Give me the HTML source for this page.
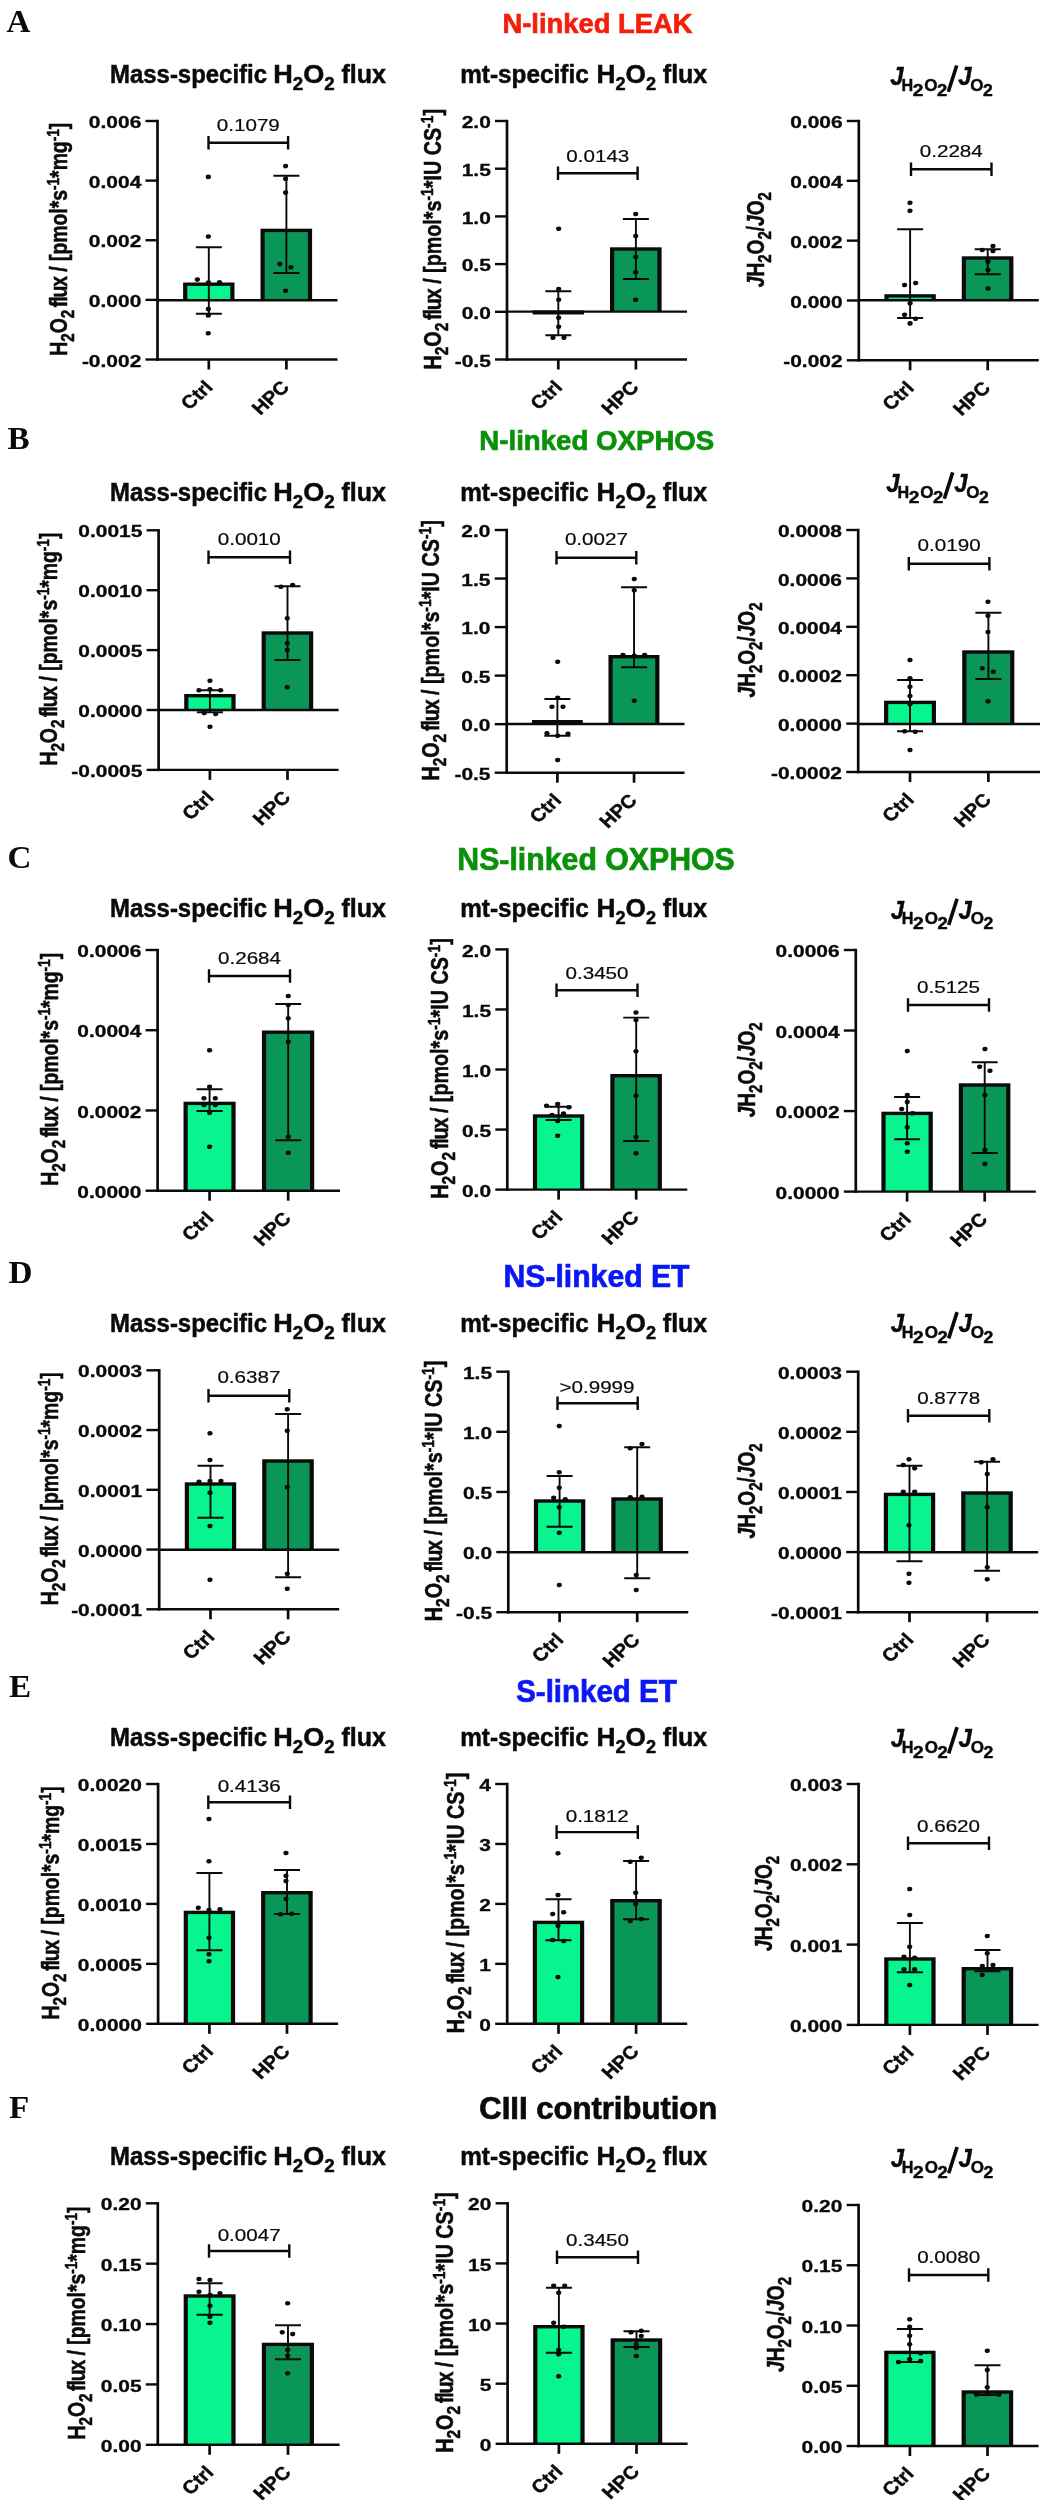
<!DOCTYPE html>
<html><head><meta charset="utf-8"><title>Figure</title><style>
html,body{margin:0;padding:0;background:#fff;}
svg{display:block;will-change:transform;}
text{font-family:"Liberation Sans",sans-serif;fill:#0a0a0a;}
.lt{font-family:"Liberation Serif",serif;font-weight:bold;font-size:31px;}
.tt{font-weight:bold;font-size:26px;stroke-width:.7px;}
.st{font-weight:bold;font-size:26px;stroke:#0a0a0a;stroke-width:.5px;}
.ss{font-size:18px;}
.s1{font-size:17px;}
.s2{font-size:14px;}
.tk{font-weight:bold;font-size:17.4px;stroke:#0a0a0a;stroke-width:.32px;}
.xl{font-weight:bold;font-size:18.4px;stroke:#0a0a0a;stroke-width:.4px;}
.pv{font-size:16.5px;stroke:#0a0a0a;stroke-width:.2px;}
.yl{font-weight:bold;font-size:18.5px;stroke:#0a0a0a;stroke-width:.4px;}
.sb{font-size:14.5px;}
.sp{font-size:13px;}
.ax{stroke:#0a0a0a;stroke-width:2.4;fill:none;}
.ay{stroke:#0a0a0a;stroke-width:2.7;fill:none;}
.er{stroke:#0a0a0a;stroke-width:1.9;fill:none;}
.br{stroke:#0a0a0a;stroke-width:2.4;fill:none;}
</style></head>
<body>
<svg width="1041" height="2500" viewBox="0 0 1041 2500">
<rect width="1041" height="2500" fill="#fff"/>
<!-- row A -->
<text transform="translate(6.5,32) scale(1.07,1)" class="lt">A</text>
<text x="502.5" y="32.5" textLength="190" lengthAdjust="spacingAndGlyphs" class="tt" style="fill:#f41e0a;stroke:#f41e0a;font-size:27px">N-linked LEAK</text>
<text x="110" y="83.3" textLength="157" lengthAdjust="spacingAndGlyphs" class="st">Mass-specific</text>
<text x="273.3" y="83.3" textLength="61.5" lengthAdjust="spacingAndGlyphs" class="st">H<tspan class="ss" dy="7">2</tspan><tspan dy="-7">O</tspan><tspan class="ss" dy="7">2</tspan></text>
<text x="341.5" y="83.3" textLength="44.5" lengthAdjust="spacingAndGlyphs" class="st">flux</text>
<rect x="183.1" y="282.5" width="51.4" height="17.7" fill="#0a0a0a"/>
<rect x="187.3" y="285.9" width="43" height="14.3" fill="#08f48f"/>
<rect x="260.5" y="228.7" width="51.6" height="71.5" fill="#0a0a0a"/>
<rect x="264.7" y="232.1" width="43.2" height="68.1" fill="#0a9656"/>
<path d="M157.5 119.8V360.7" class="ay"/>
<path d="M156.2 359.5H337.5" class="ax"/>
<path d="M157.5 300.2H337.5" class="ax"/>
<path d="M145.5 121H157.5" class="ax"/>
<text transform="translate(141.3,128.1) scale(1.205,1)" text-anchor="end" class="tk">0.006</text>
<path d="M145.5 180.62H157.5" class="ax"/>
<text transform="translate(141.3,187.72) scale(1.205,1)" text-anchor="end" class="tk">0.004</text>
<path d="M145.5 240.25H157.5" class="ax"/>
<text transform="translate(141.3,247.35) scale(1.205,1)" text-anchor="end" class="tk">0.002</text>
<path d="M145.5 299.88H157.5" class="ax"/>
<text transform="translate(141.3,306.98) scale(1.205,1)" text-anchor="end" class="tk">0.000</text>
<path d="M145.5 359.5H157.5" class="ax"/>
<text transform="translate(141.3,366.6) scale(1.205,1)" text-anchor="end" class="tk">-0.002</text>
<path d="M208.8 359.5V369.5" class="ay"/>
<text transform="translate(214,388.3) scale(1.1,1) rotate(-45)" text-anchor="end" class="xl">Ctrl</text>
<path d="M286.4 359.5V369.5" class="ay"/>
<text transform="translate(290.4,388.3) scale(1.1,1) rotate(-45)" text-anchor="end" class="xl">HPC</text>
<path d="M208.8 247.3V313.7M195.8 247.3h26M195.8 313.7h26" class="er"/>
<path d="M286.4 175.7V273M273.4 175.7h26M273.4 273h26" class="er"/>
<ellipse cx="208.4" cy="176.9" rx="2.6" ry="2.3" fill="#0a0a0a"/>
<ellipse cx="208.4" cy="236.5" rx="2.6" ry="2.3" fill="#0a0a0a"/>
<ellipse cx="197.4" cy="279.6" rx="2.6" ry="2.3" fill="#0a0a0a"/>
<ellipse cx="208.4" cy="282.5" rx="2.6" ry="2.3" fill="#0a0a0a"/>
<ellipse cx="219.5" cy="282.2" rx="2.6" ry="2.3" fill="#0a0a0a"/>
<ellipse cx="208.4" cy="309.1" rx="2.6" ry="2.3" fill="#0a0a0a"/>
<ellipse cx="208.4" cy="315.5" rx="2.6" ry="2.3" fill="#0a0a0a"/>
<ellipse cx="208.3" cy="333.3" rx="2.6" ry="2.3" fill="#0a0a0a"/>
<ellipse cx="285.6" cy="166.1" rx="2.6" ry="2.3" fill="#0a0a0a"/>
<ellipse cx="285.6" cy="178.8" rx="2.6" ry="2.3" fill="#0a0a0a"/>
<ellipse cx="285.6" cy="192.6" rx="2.6" ry="2.3" fill="#0a0a0a"/>
<ellipse cx="279.9" cy="264.1" rx="2.6" ry="2.3" fill="#0a0a0a"/>
<ellipse cx="291" cy="267.3" rx="2.6" ry="2.3" fill="#0a0a0a"/>
<ellipse cx="285.6" cy="290.8" rx="2.6" ry="2.3" fill="#0a0a0a"/>
<path d="M208.5 142.7H288.1M208.5 135.9v13.6M288.1 135.9v13.6" class="br"/>
<text transform="translate(248.3,131.2) scale(1.25,1)" text-anchor="middle" class="pv">0.1079</text>
<text transform="translate(66.5,239.25) scale(1.33,1) rotate(-90)" text-anchor="middle" textLength="233" lengthAdjust="spacingAndGlyphs" class="yl">H<tspan class="sb" dy="5.3">2</tspan><tspan dy="-5.3">O</tspan><tspan class="sb" dy="5.3">2</tspan><tspan dy="-5.3"> </tspan><tspan letter-spacing="-1.05" dx="-2.6">flux</tspan><tspan> / [pmol*s</tspan><tspan class="sp" dy="-6">-1</tspan><tspan dy="6">*mg</tspan><tspan class="sp" dy="-6">-1</tspan><tspan dy="6">]</tspan></text>
<text x="460.2" y="83.3" textLength="128.5" lengthAdjust="spacingAndGlyphs" class="st">mt-specific</text>
<text x="596.5" y="83.3" textLength="59.5" lengthAdjust="spacingAndGlyphs" class="st">H<tspan class="ss" dy="7">2</tspan><tspan dy="-7">O</tspan><tspan class="ss" dy="7">2</tspan></text>
<text x="662.8" y="83.3" textLength="44.5" lengthAdjust="spacingAndGlyphs" class="st">flux</text>
<rect x="532.6" y="310.4" width="51.4" height="4.1" fill="#0a0a0a"/>
<rect x="610" y="247.3" width="51.6" height="64.3" fill="#0a0a0a"/>
<rect x="614.2" y="250.7" width="43.2" height="60.9" fill="#0a9656"/>
<path d="M507 119.8V360.7" class="ay"/>
<path d="M505.7 359.5H687" class="ax"/>
<path d="M507 311.6H687" class="ax"/>
<path d="M495 121H507" class="ax"/>
<text transform="translate(490.8,128.1) scale(1.205,1)" text-anchor="end" class="tk">2.0</text>
<path d="M495 168.7H507" class="ax"/>
<text transform="translate(490.8,175.8) scale(1.205,1)" text-anchor="end" class="tk">1.5</text>
<path d="M495 216.4H507" class="ax"/>
<text transform="translate(490.8,223.5) scale(1.205,1)" text-anchor="end" class="tk">1.0</text>
<path d="M495 264.1H507" class="ax"/>
<text transform="translate(490.8,271.2) scale(1.205,1)" text-anchor="end" class="tk">0.5</text>
<path d="M495 311.8H507" class="ax"/>
<text transform="translate(490.8,318.9) scale(1.205,1)" text-anchor="end" class="tk">0.0</text>
<path d="M495 359.5H507" class="ax"/>
<text transform="translate(490.8,366.6) scale(1.205,1)" text-anchor="end" class="tk">-0.5</text>
<path d="M558.3 359.5V369.5" class="ay"/>
<text transform="translate(563.5,388.3) scale(1.1,1) rotate(-45)" text-anchor="end" class="xl">Ctrl</text>
<path d="M635.9 359.5V369.5" class="ay"/>
<text transform="translate(639.9,388.3) scale(1.1,1) rotate(-45)" text-anchor="end" class="xl">HPC</text>
<path d="M558.3 291.3V335.3M545.3 291.3h26M545.3 335.3h26" class="er"/>
<path d="M635.9 219V279M622.9 219h26M622.9 279h26" class="er"/>
<ellipse cx="558.7" cy="228.7" rx="2.6" ry="2.3" fill="#0a0a0a"/>
<ellipse cx="558.7" cy="289" rx="2.6" ry="2.3" fill="#0a0a0a"/>
<ellipse cx="558.7" cy="299.7" rx="2.6" ry="2.3" fill="#0a0a0a"/>
<ellipse cx="558.7" cy="317.7" rx="2.6" ry="2.3" fill="#0a0a0a"/>
<ellipse cx="558.7" cy="326.7" rx="2.6" ry="2.3" fill="#0a0a0a"/>
<ellipse cx="553" cy="337.7" rx="2.6" ry="2.3" fill="#0a0a0a"/>
<ellipse cx="564" cy="337.7" rx="2.6" ry="2.3" fill="#0a0a0a"/>
<ellipse cx="635.7" cy="214" rx="2.6" ry="2.3" fill="#0a0a0a"/>
<ellipse cx="635.7" cy="236" rx="2.6" ry="2.3" fill="#0a0a0a"/>
<ellipse cx="635.7" cy="256.7" rx="2.6" ry="2.3" fill="#0a0a0a"/>
<ellipse cx="635.7" cy="272.3" rx="2.6" ry="2.3" fill="#0a0a0a"/>
<ellipse cx="635.7" cy="299.7" rx="2.6" ry="2.3" fill="#0a0a0a"/>
<path d="M558 173.3H637.6M558 166.5v13.6M637.6 166.5v13.6" class="br"/>
<text transform="translate(597.8,161.8) scale(1.25,1)" text-anchor="middle" class="pv">0.0143</text>
<text transform="translate(441,239.25) scale(1.33,1) rotate(-90)" text-anchor="middle" textLength="260.5" lengthAdjust="spacingAndGlyphs" class="yl">H<tspan class="sb" dy="5.3">2</tspan><tspan dy="-5.3">O</tspan><tspan class="sb" dy="5.3">2</tspan><tspan dy="-5.3"> </tspan><tspan letter-spacing="-1.05" dx="-2.6">flux</tspan><tspan> / [pmol*s</tspan><tspan class="sp" dy="-6">-1</tspan><tspan dy="6">*IU CS</tspan><tspan class="sp" dy="-6">-1</tspan><tspan dy="6">]</tspan></text>
<text transform="translate(890.3,85.3) scale(0.9,1)" font-size="26.5" font-weight="bold" stroke="#0a0a0a" stroke-width=".45" font-style="italic">J</text>
<text transform="translate(901.4,91) scale(0.95,1)" font-size="17" font-weight="bold" stroke="#0a0a0a" stroke-width=".45">H</text>
<text transform="translate(912.7,96) scale(1.2,1)" font-size="16" font-weight="bold" stroke="#0a0a0a" stroke-width=".45">2</text>
<text transform="translate(924.3,91) scale(1.0,1)" font-size="17" font-weight="bold" stroke="#0a0a0a" stroke-width=".45">O</text>
<text transform="translate(937,96) scale(1.15,1)" font-size="16" font-weight="bold" stroke="#0a0a0a" stroke-width=".45">2</text>
<path d="M948.3 91.8L956.7 65.5" stroke="#0a0a0a" stroke-width="3.6" fill="none"/>
<text transform="translate(958.2,85.3) scale(0.9,1)" font-size="26.5" font-weight="bold" stroke="#0a0a0a" stroke-width=".45" font-style="italic">J</text>
<text transform="translate(970.3,91) scale(1.0,1)" font-size="17" font-weight="bold" stroke="#0a0a0a" stroke-width=".45">O</text>
<text transform="translate(983,96) scale(1.1,1)" font-size="16" font-weight="bold" stroke="#0a0a0a" stroke-width=".45">2</text>
<rect x="884.4" y="294.2" width="51.4" height="6.1" fill="#0a0a0a"/>
<rect x="888.6" y="297.6" width="43" height="2.7" fill="#08f48f"/>
<rect x="961.8" y="256.3" width="51.6" height="44" fill="#0a0a0a"/>
<rect x="966" y="259.7" width="43.2" height="40.6" fill="#0a9656"/>
<path d="M858.8 119.8V361.5" class="ay"/>
<path d="M857.5 360.3H1038.8" class="ax"/>
<path d="M858.8 300.3H1038.8" class="ax"/>
<path d="M846.8 121H858.8" class="ax"/>
<text transform="translate(842.6,128.1) scale(1.205,1)" text-anchor="end" class="tk">0.006</text>
<path d="M846.8 180.82H858.8" class="ax"/>
<text transform="translate(842.6,187.92) scale(1.205,1)" text-anchor="end" class="tk">0.004</text>
<path d="M846.8 240.65H858.8" class="ax"/>
<text transform="translate(842.6,247.75) scale(1.205,1)" text-anchor="end" class="tk">0.002</text>
<path d="M846.8 300.48H858.8" class="ax"/>
<text transform="translate(842.6,307.58) scale(1.205,1)" text-anchor="end" class="tk">0.000</text>
<path d="M846.8 360.3H858.8" class="ax"/>
<text transform="translate(842.6,367.4) scale(1.205,1)" text-anchor="end" class="tk">-0.002</text>
<path d="M910.1 360.3V370.3" class="ay"/>
<text transform="translate(915.3,389.1) scale(1.1,1) rotate(-45)" text-anchor="end" class="xl">Ctrl</text>
<path d="M987.7 360.3V370.3" class="ay"/>
<text transform="translate(991.7,389.1) scale(1.1,1) rotate(-45)" text-anchor="end" class="xl">HPC</text>
<path d="M910.1 229.3V318M897.1 229.3h26M897.1 318h26" class="er"/>
<path d="M987.7 249.3V274.3M974.7 249.3h26M974.7 274.3h26" class="er"/>
<ellipse cx="910" cy="202.7" rx="2.6" ry="2.3" fill="#0a0a0a"/>
<ellipse cx="910" cy="210.7" rx="2.6" ry="2.3" fill="#0a0a0a"/>
<ellipse cx="904.6" cy="285" rx="2.6" ry="2.3" fill="#0a0a0a"/>
<ellipse cx="915.7" cy="283" rx="2.6" ry="2.3" fill="#0a0a0a"/>
<ellipse cx="910.1" cy="303.2" rx="2.6" ry="2.3" fill="#0a0a0a"/>
<ellipse cx="904.6" cy="314.7" rx="2.6" ry="2.3" fill="#0a0a0a"/>
<ellipse cx="915.7" cy="318.7" rx="2.6" ry="2.3" fill="#0a0a0a"/>
<ellipse cx="910.1" cy="323.4" rx="2.6" ry="2.3" fill="#0a0a0a"/>
<ellipse cx="982.3" cy="250" rx="2.6" ry="2.3" fill="#0a0a0a"/>
<ellipse cx="993" cy="246" rx="2.6" ry="2.3" fill="#0a0a0a"/>
<ellipse cx="993" cy="251" rx="2.6" ry="2.3" fill="#0a0a0a"/>
<ellipse cx="988" cy="261.7" rx="2.6" ry="2.3" fill="#0a0a0a"/>
<ellipse cx="988" cy="270" rx="2.6" ry="2.3" fill="#0a0a0a"/>
<ellipse cx="988" cy="288.5" rx="2.6" ry="2.3" fill="#0a0a0a"/>
<path d="M911 169.3H991.5M911 162.5v13.6M991.5 162.5v13.6" class="br"/>
<text transform="translate(951.25,156.9) scale(1.25,1)" text-anchor="middle" class="pv">0.2284</text>
<text transform="translate(763.8,239.65) scale(1.33,1) rotate(-90)" text-anchor="middle" textLength="95" lengthAdjust="spacingAndGlyphs" class="yl"><tspan font-style="italic">J</tspan>H<tspan class="sb" dy="5.3">2</tspan><tspan dy="-5.3">O</tspan><tspan class="sb" dy="5.3">2</tspan><tspan dy="-5.3">/</tspan><tspan font-style="italic">J</tspan>O<tspan class="sb" dy="5.3">2</tspan></text>
<!-- row B -->
<text transform="translate(7.4,449.3) scale(1.07,1)" class="lt">B</text>
<text x="479.3" y="450.3" textLength="235" lengthAdjust="spacingAndGlyphs" class="tt" style="fill:#0a910a;stroke:#0a910a;font-size:27px">N-linked OXPHOS</text>
<text x="110" y="501" textLength="157" lengthAdjust="spacingAndGlyphs" class="st">Mass-specific</text>
<text x="273.3" y="501" textLength="61.5" lengthAdjust="spacingAndGlyphs" class="st">H<tspan class="ss" dy="7">2</tspan><tspan dy="-7">O</tspan><tspan class="ss" dy="7">2</tspan></text>
<text x="341.5" y="501" textLength="44.5" lengthAdjust="spacingAndGlyphs" class="st">flux</text>
<rect x="184.2" y="694" width="51.4" height="16" fill="#0a0a0a"/>
<rect x="188.4" y="697.4" width="43" height="12.6" fill="#08f48f"/>
<rect x="261.6" y="631.3" width="51.6" height="78.7" fill="#0a0a0a"/>
<rect x="265.8" y="634.7" width="43.2" height="75.3" fill="#0a9656"/>
<path d="M158.6 529.1V771.1" class="ay"/>
<path d="M157.3 769.9H338.6" class="ax"/>
<path d="M158.6 710H338.6" class="ax"/>
<path d="M146.6 530.3H158.6" class="ax"/>
<text transform="translate(142.4,537.4) scale(1.205,1)" text-anchor="end" class="tk">0.0015</text>
<path d="M146.6 590.2H158.6" class="ax"/>
<text transform="translate(142.4,597.3) scale(1.205,1)" text-anchor="end" class="tk">0.0010</text>
<path d="M146.6 650.1H158.6" class="ax"/>
<text transform="translate(142.4,657.2) scale(1.205,1)" text-anchor="end" class="tk">0.0005</text>
<path d="M146.6 710H158.6" class="ax"/>
<text transform="translate(142.4,717.1) scale(1.205,1)" text-anchor="end" class="tk">0.0000</text>
<path d="M146.6 769.9H158.6" class="ax"/>
<text transform="translate(142.4,777) scale(1.205,1)" text-anchor="end" class="tk">-0.0005</text>
<path d="M209.9 769.9V779.9" class="ay"/>
<text transform="translate(215.1,798.7) scale(1.1,1) rotate(-45)" text-anchor="end" class="xl">Ctrl</text>
<path d="M287.5 769.9V779.9" class="ay"/>
<text transform="translate(291.5,798.7) scale(1.1,1) rotate(-45)" text-anchor="end" class="xl">HPC</text>
<path d="M209.9 690.3V712.3M196.9 690.3h26M196.9 712.3h26" class="er"/>
<path d="M287.5 586.3V660M274.5 586.3h26M274.5 660h26" class="er"/>
<ellipse cx="210" cy="680.7" rx="2.6" ry="2.3" fill="#0a0a0a"/>
<ellipse cx="199" cy="690.3" rx="2.6" ry="2.3" fill="#0a0a0a"/>
<ellipse cx="210" cy="689.3" rx="2.6" ry="2.3" fill="#0a0a0a"/>
<ellipse cx="220.7" cy="690.3" rx="2.6" ry="2.3" fill="#0a0a0a"/>
<ellipse cx="204.3" cy="713" rx="2.6" ry="2.3" fill="#0a0a0a"/>
<ellipse cx="215.7" cy="714" rx="2.6" ry="2.3" fill="#0a0a0a"/>
<ellipse cx="210" cy="726.7" rx="2.6" ry="2.3" fill="#0a0a0a"/>
<ellipse cx="281" cy="586.7" rx="2.6" ry="2.3" fill="#0a0a0a"/>
<ellipse cx="292.7" cy="585" rx="2.6" ry="2.3" fill="#0a0a0a"/>
<ellipse cx="287.3" cy="618.3" rx="2.6" ry="2.3" fill="#0a0a0a"/>
<ellipse cx="287.3" cy="643.3" rx="2.6" ry="2.3" fill="#0a0a0a"/>
<ellipse cx="287.3" cy="650" rx="2.6" ry="2.3" fill="#0a0a0a"/>
<ellipse cx="287.3" cy="687.3" rx="2.6" ry="2.3" fill="#0a0a0a"/>
<path d="M208.5 557.3H290M208.5 550.5v13.6M290 550.5v13.6" class="br"/>
<text transform="translate(249.25,544.5) scale(1.25,1)" text-anchor="middle" class="pv">0.0010</text>
<text transform="translate(56.5,649.1) scale(1.33,1) rotate(-90)" text-anchor="middle" textLength="233" lengthAdjust="spacingAndGlyphs" class="yl">H<tspan class="sb" dy="5.3">2</tspan><tspan dy="-5.3">O</tspan><tspan class="sb" dy="5.3">2</tspan><tspan dy="-5.3"> </tspan><tspan letter-spacing="-1.05" dx="-2.6">flux</tspan><tspan> / [pmol*s</tspan><tspan class="sp" dy="-6">-1</tspan><tspan dy="6">*mg</tspan><tspan class="sp" dy="-6">-1</tspan><tspan dy="6">]</tspan></text>
<text x="460.2" y="501" textLength="128.5" lengthAdjust="spacingAndGlyphs" class="st">mt-specific</text>
<text x="596.5" y="501" textLength="59.5" lengthAdjust="spacingAndGlyphs" class="st">H<tspan class="ss" dy="7">2</tspan><tspan dy="-7">O</tspan><tspan class="ss" dy="7">2</tspan></text>
<text x="662.8" y="501" textLength="44.5" lengthAdjust="spacingAndGlyphs" class="st">flux</text>
<rect x="531.99" y="720" width="50.78" height="4" fill="#0a0a0a"/>
<rect x="536.19" y="723.4" width="42.38" height="0.6" fill="#08f48f"/>
<rect x="608.46" y="655" width="50.98" height="69" fill="#0a0a0a"/>
<rect x="612.66" y="658.4" width="42.58" height="65.6" fill="#0a9656"/>
<path d="M506.7 528.8V773.9" class="ay"/>
<path d="M505.4 772.7H684.54" class="ax"/>
<path d="M506.7 724H684.54" class="ax"/>
<path d="M494.7 530H506.7" class="ax"/>
<text transform="translate(490.5,537.1) scale(1.205,1)" text-anchor="end" class="tk">2.0</text>
<path d="M494.7 578.54H506.7" class="ax"/>
<text transform="translate(490.5,585.64) scale(1.205,1)" text-anchor="end" class="tk">1.5</text>
<path d="M494.7 627.08H506.7" class="ax"/>
<text transform="translate(490.5,634.18) scale(1.205,1)" text-anchor="end" class="tk">1.0</text>
<path d="M494.7 675.62H506.7" class="ax"/>
<text transform="translate(490.5,682.72) scale(1.205,1)" text-anchor="end" class="tk">0.5</text>
<path d="M494.7 724.16H506.7" class="ax"/>
<text transform="translate(490.5,731.26) scale(1.205,1)" text-anchor="end" class="tk">0.0</text>
<path d="M494.7 772.7H506.7" class="ax"/>
<text transform="translate(490.5,779.8) scale(1.205,1)" text-anchor="end" class="tk">-0.5</text>
<path d="M557.38 772.7V782.7" class="ay"/>
<text transform="translate(562.58,801.5) scale(1.1,1) rotate(-45)" text-anchor="end" class="xl">Ctrl</text>
<path d="M634.05 772.7V782.7" class="ay"/>
<text transform="translate(638.05,801.5) scale(1.1,1) rotate(-45)" text-anchor="end" class="xl">HPC</text>
<path d="M557.38 699V735.7M544.38 699h26M544.38 735.7h26" class="er"/>
<path d="M634.05 587.3V667.3M621.05 587.3h26M621.05 667.3h26" class="er"/>
<ellipse cx="557.7" cy="661.7" rx="2.6" ry="2.3" fill="#0a0a0a"/>
<ellipse cx="557.7" cy="697.7" rx="2.6" ry="2.3" fill="#0a0a0a"/>
<ellipse cx="552" cy="706.7" rx="2.6" ry="2.3" fill="#0a0a0a"/>
<ellipse cx="563" cy="706.7" rx="2.6" ry="2.3" fill="#0a0a0a"/>
<ellipse cx="547" cy="733.3" rx="2.6" ry="2.3" fill="#0a0a0a"/>
<ellipse cx="557.7" cy="735.7" rx="2.6" ry="2.3" fill="#0a0a0a"/>
<ellipse cx="568" cy="733.7" rx="2.6" ry="2.3" fill="#0a0a0a"/>
<ellipse cx="557.7" cy="760" rx="2.6" ry="2.3" fill="#0a0a0a"/>
<ellipse cx="634.3" cy="579" rx="2.6" ry="2.3" fill="#0a0a0a"/>
<ellipse cx="634.3" cy="590.3" rx="2.6" ry="2.3" fill="#0a0a0a"/>
<ellipse cx="623" cy="655" rx="2.6" ry="2.3" fill="#0a0a0a"/>
<ellipse cx="634.3" cy="655.7" rx="2.6" ry="2.3" fill="#0a0a0a"/>
<ellipse cx="644.7" cy="655" rx="2.6" ry="2.3" fill="#0a0a0a"/>
<ellipse cx="634.3" cy="700.7" rx="2.6" ry="2.3" fill="#0a0a0a"/>
<path d="M556.5 557.7H636.3M556.5 550.9v13.6M636.3 550.9v13.6" class="br"/>
<text transform="translate(596.4,545.2) scale(1.25,1)" text-anchor="middle" class="pv">0.0027</text>
<text transform="translate(439,650.35) scale(1.33,1) rotate(-90)" text-anchor="middle" textLength="260.5" lengthAdjust="spacingAndGlyphs" class="yl">H<tspan class="sb" dy="5.3">2</tspan><tspan dy="-5.3">O</tspan><tspan class="sb" dy="5.3">2</tspan><tspan dy="-5.3"> </tspan><tspan letter-spacing="-1.05" dx="-2.6">flux</tspan><tspan> / [pmol*s</tspan><tspan class="sp" dy="-6">-1</tspan><tspan dy="6">*IU CS</tspan><tspan class="sp" dy="-6">-1</tspan><tspan dy="6">]</tspan></text>
<text transform="translate(886.3,492.2) scale(0.9,1)" font-size="26.5" font-weight="bold" stroke="#0a0a0a" stroke-width=".45" font-style="italic">J</text>
<text transform="translate(897.4,497.9) scale(0.95,1)" font-size="17" font-weight="bold" stroke="#0a0a0a" stroke-width=".45">H</text>
<text transform="translate(908.7,502.9) scale(1.2,1)" font-size="16" font-weight="bold" stroke="#0a0a0a" stroke-width=".45">2</text>
<text transform="translate(920.3,497.9) scale(1.0,1)" font-size="17" font-weight="bold" stroke="#0a0a0a" stroke-width=".45">O</text>
<text transform="translate(933,502.9) scale(1.15,1)" font-size="16" font-weight="bold" stroke="#0a0a0a" stroke-width=".45">2</text>
<path d="M944.3 498.7L952.7 472.4" stroke="#0a0a0a" stroke-width="3.6" fill="none"/>
<text transform="translate(954.2,492.2) scale(0.9,1)" font-size="26.5" font-weight="bold" stroke="#0a0a0a" stroke-width=".45" font-style="italic">J</text>
<text transform="translate(966.3,497.9) scale(1.0,1)" font-size="17" font-weight="bold" stroke="#0a0a0a" stroke-width=".45">O</text>
<text transform="translate(979,502.9) scale(1.1,1)" font-size="16" font-weight="bold" stroke="#0a0a0a" stroke-width=".45">2</text>
<rect x="884.06" y="700.7" width="51.91" height="23.3" fill="#0a0a0a"/>
<rect x="888.26" y="704.1" width="43.51" height="19.9" fill="#08f48f"/>
<rect x="962.23" y="650.3" width="52.12" height="73.7" fill="#0a0a0a"/>
<rect x="966.43" y="653.7" width="43.72" height="70.3" fill="#0a9656"/>
<path d="M858.2 528.8V773.2" class="ay"/>
<path d="M856.9 772H1040" class="ax"/>
<path d="M858.2 724H1040" class="ax"/>
<path d="M846.2 530H858.2" class="ax"/>
<text transform="translate(842,537.1) scale(1.205,1)" text-anchor="end" class="tk">0.0008</text>
<path d="M846.2 578.4H858.2" class="ax"/>
<text transform="translate(842,585.5) scale(1.205,1)" text-anchor="end" class="tk">0.0006</text>
<path d="M846.2 626.8H858.2" class="ax"/>
<text transform="translate(842,633.9) scale(1.205,1)" text-anchor="end" class="tk">0.0004</text>
<path d="M846.2 675.2H858.2" class="ax"/>
<text transform="translate(842,682.3) scale(1.205,1)" text-anchor="end" class="tk">0.0002</text>
<path d="M846.2 723.6H858.2" class="ax"/>
<text transform="translate(842,730.7) scale(1.205,1)" text-anchor="end" class="tk">0.0000</text>
<path d="M846.2 772H858.2" class="ax"/>
<text transform="translate(842,779.1) scale(1.205,1)" text-anchor="end" class="tk">-0.0002</text>
<path d="M910.01 772V782" class="ay"/>
<text transform="translate(915.21,800.8) scale(1.1,1) rotate(-45)" text-anchor="end" class="xl">Ctrl</text>
<path d="M988.39 772V782" class="ay"/>
<text transform="translate(992.39,800.8) scale(1.1,1) rotate(-45)" text-anchor="end" class="xl">HPC</text>
<path d="M910.01 680V731.3M897.01 680h26M897.01 731.3h26" class="er"/>
<path d="M988.39 612.7V679M975.39 612.7h26M975.39 679h26" class="er"/>
<ellipse cx="910" cy="660" rx="2.6" ry="2.3" fill="#0a0a0a"/>
<ellipse cx="910" cy="678.3" rx="2.6" ry="2.3" fill="#0a0a0a"/>
<ellipse cx="910" cy="686.7" rx="2.6" ry="2.3" fill="#0a0a0a"/>
<ellipse cx="910" cy="696" rx="2.6" ry="2.3" fill="#0a0a0a"/>
<ellipse cx="910" cy="704.3" rx="2.6" ry="2.3" fill="#0a0a0a"/>
<ellipse cx="904.7" cy="731.3" rx="2.6" ry="2.3" fill="#0a0a0a"/>
<ellipse cx="915.3" cy="731.7" rx="2.6" ry="2.3" fill="#0a0a0a"/>
<ellipse cx="910" cy="750" rx="2.6" ry="2.3" fill="#0a0a0a"/>
<ellipse cx="988" cy="601.7" rx="2.6" ry="2.3" fill="#0a0a0a"/>
<ellipse cx="988" cy="615.7" rx="2.6" ry="2.3" fill="#0a0a0a"/>
<ellipse cx="988" cy="632" rx="2.6" ry="2.3" fill="#0a0a0a"/>
<ellipse cx="982.3" cy="668.3" rx="2.6" ry="2.3" fill="#0a0a0a"/>
<ellipse cx="993.3" cy="671.7" rx="2.6" ry="2.3" fill="#0a0a0a"/>
<ellipse cx="988" cy="701.3" rx="2.6" ry="2.3" fill="#0a0a0a"/>
<path d="M908.8 563.8H989.4M908.8 557v13.6M989.4 557v13.6" class="br"/>
<text transform="translate(949.1,551.2) scale(1.25,1)" text-anchor="middle" class="pv">0.0190</text>
<text transform="translate(755,650) scale(1.33,1) rotate(-90)" text-anchor="middle" textLength="95" lengthAdjust="spacingAndGlyphs" class="yl"><tspan font-style="italic">J</tspan>H<tspan class="sb" dy="5.3">2</tspan><tspan dy="-5.3">O</tspan><tspan class="sb" dy="5.3">2</tspan><tspan dy="-5.3">/</tspan><tspan font-style="italic">J</tspan>O<tspan class="sb" dy="5.3">2</tspan></text>
<!-- row C -->
<text transform="translate(7.6,867.6) scale(1.07,1)" class="lt">C</text>
<text x="457.3" y="869.6" textLength="277.5" lengthAdjust="spacingAndGlyphs" class="tt" style="fill:#0a910a;stroke:#0a910a;font-size:30.5px">NS-linked OXPHOS</text>
<text x="110" y="917.3" textLength="157" lengthAdjust="spacingAndGlyphs" class="st">Mass-specific</text>
<text x="273.3" y="917.3" textLength="61.5" lengthAdjust="spacingAndGlyphs" class="st">H<tspan class="ss" dy="7">2</tspan><tspan dy="-7">O</tspan><tspan class="ss" dy="7">2</tspan></text>
<text x="341.5" y="917.3" textLength="44.5" lengthAdjust="spacingAndGlyphs" class="st">flux</text>
<rect x="183.53" y="1101.7" width="52.07" height="89" fill="#0a0a0a"/>
<rect x="187.73" y="1105.1" width="43.67" height="85.6" fill="#08f48f"/>
<rect x="261.94" y="1030.5" width="52.27" height="160.2" fill="#0a0a0a"/>
<rect x="266.14" y="1033.9" width="43.87" height="156.8" fill="#0a9656"/>
<path d="M157.6 948.8V1191.9" class="ay"/>
<path d="M156.3 1190.7H339.94" class="ax"/>
<path d="M145.6 950H157.6" class="ax"/>
<text transform="translate(141.4,957.1) scale(1.205,1)" text-anchor="end" class="tk">0.0006</text>
<path d="M145.6 1030.23H157.6" class="ax"/>
<text transform="translate(141.4,1037.33) scale(1.205,1)" text-anchor="end" class="tk">0.0004</text>
<path d="M145.6 1110.47H157.6" class="ax"/>
<text transform="translate(141.4,1117.57) scale(1.205,1)" text-anchor="end" class="tk">0.0002</text>
<path d="M145.6 1190.7H157.6" class="ax"/>
<text transform="translate(141.4,1197.8) scale(1.205,1)" text-anchor="end" class="tk">0.0000</text>
<path d="M209.57 1190.7V1200.7" class="ay"/>
<text transform="translate(214.77,1219.5) scale(1.1,1) rotate(-45)" text-anchor="end" class="xl">Ctrl</text>
<path d="M288.18 1190.7V1200.7" class="ay"/>
<text transform="translate(292.18,1219.5) scale(1.1,1) rotate(-45)" text-anchor="end" class="xl">HPC</text>
<path d="M209.57 1089.3V1111M196.57 1089.3h26M196.57 1111h26" class="er"/>
<path d="M288.18 1004V1140.3M275.18 1004h26M275.18 1140.3h26" class="er"/>
<ellipse cx="209.6" cy="1050.3" rx="2.6" ry="2.3" fill="#0a0a0a"/>
<ellipse cx="209.6" cy="1086.7" rx="2.6" ry="2.3" fill="#0a0a0a"/>
<ellipse cx="204" cy="1098.3" rx="2.6" ry="2.3" fill="#0a0a0a"/>
<ellipse cx="215.4" cy="1098.3" rx="2.6" ry="2.3" fill="#0a0a0a"/>
<ellipse cx="204" cy="1105" rx="2.6" ry="2.3" fill="#0a0a0a"/>
<ellipse cx="215.4" cy="1105" rx="2.6" ry="2.3" fill="#0a0a0a"/>
<ellipse cx="209.6" cy="1112.7" rx="2.6" ry="2.3" fill="#0a0a0a"/>
<ellipse cx="209.6" cy="1146.7" rx="2.6" ry="2.3" fill="#0a0a0a"/>
<ellipse cx="288.3" cy="996" rx="2.6" ry="2.3" fill="#0a0a0a"/>
<ellipse cx="288.3" cy="1005" rx="2.6" ry="2.3" fill="#0a0a0a"/>
<ellipse cx="288.3" cy="1018.3" rx="2.6" ry="2.3" fill="#0a0a0a"/>
<ellipse cx="288.3" cy="1041.7" rx="2.6" ry="2.3" fill="#0a0a0a"/>
<ellipse cx="288.3" cy="1136.7" rx="2.6" ry="2.3" fill="#0a0a0a"/>
<ellipse cx="288.3" cy="1152.7" rx="2.6" ry="2.3" fill="#0a0a0a"/>
<path d="M209 976H290M209 969.2v13.6M290 969.2v13.6" class="br"/>
<text transform="translate(249.5,963.5) scale(1.25,1)" text-anchor="middle" class="pv">0.2684</text>
<text transform="translate(57.5,1069.35) scale(1.33,1) rotate(-90)" text-anchor="middle" textLength="233" lengthAdjust="spacingAndGlyphs" class="yl">H<tspan class="sb" dy="5.3">2</tspan><tspan dy="-5.3">O</tspan><tspan class="sb" dy="5.3">2</tspan><tspan dy="-5.3"> </tspan><tspan letter-spacing="-1.05" dx="-2.6">flux</tspan><tspan> / [pmol*s</tspan><tspan class="sp" dy="-6">-1</tspan><tspan dy="6">*mg</tspan><tspan class="sp" dy="-6">-1</tspan><tspan dy="6">]</tspan></text>
<text x="460.2" y="917.3" textLength="128.5" lengthAdjust="spacingAndGlyphs" class="st">mt-specific</text>
<text x="596.5" y="917.3" textLength="59.5" lengthAdjust="spacingAndGlyphs" class="st">H<tspan class="ss" dy="7">2</tspan><tspan dy="-7">O</tspan><tspan class="ss" dy="7">2</tspan></text>
<text x="662.8" y="917.3" textLength="44.5" lengthAdjust="spacingAndGlyphs" class="st">flux</text>
<rect x="532.9" y="1114.3" width="51.4" height="75.3" fill="#0a0a0a"/>
<rect x="537.1" y="1117.7" width="43" height="71.9" fill="#08f48f"/>
<rect x="610.3" y="1074" width="51.6" height="115.6" fill="#0a0a0a"/>
<rect x="614.5" y="1077.4" width="43.2" height="112.2" fill="#0a9656"/>
<path d="M507.3 948.2V1190.8" class="ay"/>
<path d="M506 1189.6H687.3" class="ax"/>
<path d="M495.3 949.4H507.3" class="ax"/>
<text transform="translate(491.1,956.5) scale(1.205,1)" text-anchor="end" class="tk">2.0</text>
<path d="M495.3 1009.45H507.3" class="ax"/>
<text transform="translate(491.1,1016.55) scale(1.205,1)" text-anchor="end" class="tk">1.5</text>
<path d="M495.3 1069.5H507.3" class="ax"/>
<text transform="translate(491.1,1076.6) scale(1.205,1)" text-anchor="end" class="tk">1.0</text>
<path d="M495.3 1129.55H507.3" class="ax"/>
<text transform="translate(491.1,1136.65) scale(1.205,1)" text-anchor="end" class="tk">0.5</text>
<path d="M495.3 1189.6H507.3" class="ax"/>
<text transform="translate(491.1,1196.7) scale(1.205,1)" text-anchor="end" class="tk">0.0</text>
<path d="M558.6 1189.6V1199.6" class="ay"/>
<text transform="translate(563.8,1218.4) scale(1.1,1) rotate(-45)" text-anchor="end" class="xl">Ctrl</text>
<path d="M636.2 1189.6V1199.6" class="ay"/>
<text transform="translate(640.2,1218.4) scale(1.1,1) rotate(-45)" text-anchor="end" class="xl">HPC</text>
<path d="M558.6 1106.7V1120M545.6 1106.7h26M545.6 1120h26" class="er"/>
<path d="M636.2 1017.6V1141M623.2 1017.6h26M623.2 1141h26" class="er"/>
<ellipse cx="546.5" cy="1105.7" rx="2.6" ry="2.3" fill="#0a0a0a"/>
<ellipse cx="557.7" cy="1104" rx="2.6" ry="2.3" fill="#0a0a0a"/>
<ellipse cx="569" cy="1107.3" rx="2.6" ry="2.3" fill="#0a0a0a"/>
<ellipse cx="552" cy="1115" rx="2.6" ry="2.3" fill="#0a0a0a"/>
<ellipse cx="563.5" cy="1113.5" rx="2.6" ry="2.3" fill="#0a0a0a"/>
<ellipse cx="557.7" cy="1121" rx="2.6" ry="2.3" fill="#0a0a0a"/>
<ellipse cx="557.7" cy="1135.7" rx="2.6" ry="2.3" fill="#0a0a0a"/>
<ellipse cx="636" cy="1012.5" rx="2.6" ry="2.3" fill="#0a0a0a"/>
<ellipse cx="636" cy="1020" rx="2.6" ry="2.3" fill="#0a0a0a"/>
<ellipse cx="636" cy="1051.3" rx="2.6" ry="2.3" fill="#0a0a0a"/>
<ellipse cx="636" cy="1095.7" rx="2.6" ry="2.3" fill="#0a0a0a"/>
<ellipse cx="636" cy="1137" rx="2.6" ry="2.3" fill="#0a0a0a"/>
<ellipse cx="636" cy="1153.3" rx="2.6" ry="2.3" fill="#0a0a0a"/>
<path d="M556.5 990.3H637.5M556.5 983.5v13.6M637.5 983.5v13.6" class="br"/>
<text transform="translate(597,978.8) scale(1.25,1)" text-anchor="middle" class="pv">0.3450</text>
<text transform="translate(447.5,1068.5) scale(1.33,1) rotate(-90)" text-anchor="middle" textLength="260.5" lengthAdjust="spacingAndGlyphs" class="yl">H<tspan class="sb" dy="5.3">2</tspan><tspan dy="-5.3">O</tspan><tspan class="sb" dy="5.3">2</tspan><tspan dy="-5.3"> </tspan><tspan letter-spacing="-1.05" dx="-2.6">flux</tspan><tspan> / [pmol*s</tspan><tspan class="sp" dy="-6">-1</tspan><tspan dy="6">*IU CS</tspan><tspan class="sp" dy="-6">-1</tspan><tspan dy="6">]</tspan></text>
<text transform="translate(890.7,918.5) scale(0.9,1)" font-size="26.5" font-weight="bold" stroke="#0a0a0a" stroke-width=".45" font-style="italic">J</text>
<text transform="translate(901.8,924.2) scale(0.95,1)" font-size="17" font-weight="bold" stroke="#0a0a0a" stroke-width=".45">H</text>
<text transform="translate(913.1,929.2) scale(1.2,1)" font-size="16" font-weight="bold" stroke="#0a0a0a" stroke-width=".45">2</text>
<text transform="translate(924.7,924.2) scale(1.0,1)" font-size="17" font-weight="bold" stroke="#0a0a0a" stroke-width=".45">O</text>
<text transform="translate(937.4,929.2) scale(1.15,1)" font-size="16" font-weight="bold" stroke="#0a0a0a" stroke-width=".45">2</text>
<path d="M948.7 925L957.1 898.7" stroke="#0a0a0a" stroke-width="3.6" fill="none"/>
<text transform="translate(958.6,918.5) scale(0.9,1)" font-size="26.5" font-weight="bold" stroke="#0a0a0a" stroke-width=".45" font-style="italic">J</text>
<text transform="translate(970.7,924.2) scale(1.0,1)" font-size="17" font-weight="bold" stroke="#0a0a0a" stroke-width=".45">O</text>
<text transform="translate(983.4,929.2) scale(1.1,1)" font-size="16" font-weight="bold" stroke="#0a0a0a" stroke-width=".45">2</text>
<rect x="881.4" y="1111.7" width="51.4" height="79.9" fill="#0a0a0a"/>
<rect x="885.6" y="1115.1" width="43" height="76.5" fill="#08f48f"/>
<rect x="958.8" y="1083.3" width="51.6" height="108.3" fill="#0a0a0a"/>
<rect x="963" y="1086.7" width="43.2" height="104.9" fill="#0a9656"/>
<path d="M855.8 948.8V1192.8" class="ay"/>
<path d="M854.5 1191.6H1035.8" class="ax"/>
<path d="M843.8 950H855.8" class="ax"/>
<text transform="translate(839.6,957.1) scale(1.205,1)" text-anchor="end" class="tk">0.0006</text>
<path d="M843.8 1030.53H855.8" class="ax"/>
<text transform="translate(839.6,1037.63) scale(1.205,1)" text-anchor="end" class="tk">0.0004</text>
<path d="M843.8 1111.07H855.8" class="ax"/>
<text transform="translate(839.6,1118.17) scale(1.205,1)" text-anchor="end" class="tk">0.0002</text>
<path d="M843.8 1191.6H855.8" class="ax"/>
<text transform="translate(839.6,1198.7) scale(1.205,1)" text-anchor="end" class="tk">0.0000</text>
<path d="M907.1 1191.6V1201.6" class="ay"/>
<text transform="translate(912.3,1220.4) scale(1.1,1) rotate(-45)" text-anchor="end" class="xl">Ctrl</text>
<path d="M984.7 1191.6V1201.6" class="ay"/>
<text transform="translate(988.7,1220.4) scale(1.1,1) rotate(-45)" text-anchor="end" class="xl">HPC</text>
<path d="M907.1 1097V1139.3M894.1 1097h26M894.1 1139.3h26" class="er"/>
<path d="M984.7 1062.3V1153M971.7 1062.3h26M971.7 1153h26" class="er"/>
<ellipse cx="907.3" cy="1051" rx="2.6" ry="2.3" fill="#0a0a0a"/>
<ellipse cx="907.3" cy="1095" rx="2.6" ry="2.3" fill="#0a0a0a"/>
<ellipse cx="901.7" cy="1109" rx="2.6" ry="2.3" fill="#0a0a0a"/>
<ellipse cx="912.6" cy="1113.3" rx="2.6" ry="2.3" fill="#0a0a0a"/>
<ellipse cx="907.3" cy="1102" rx="2.6" ry="2.3" fill="#0a0a0a"/>
<ellipse cx="907.3" cy="1127.3" rx="2.6" ry="2.3" fill="#0a0a0a"/>
<ellipse cx="907.3" cy="1143.3" rx="2.6" ry="2.3" fill="#0a0a0a"/>
<ellipse cx="907.3" cy="1151.7" rx="2.6" ry="2.3" fill="#0a0a0a"/>
<ellipse cx="985" cy="1049" rx="2.6" ry="2.3" fill="#0a0a0a"/>
<ellipse cx="979.7" cy="1066.7" rx="2.6" ry="2.3" fill="#0a0a0a"/>
<ellipse cx="990" cy="1070.7" rx="2.6" ry="2.3" fill="#0a0a0a"/>
<ellipse cx="985" cy="1095" rx="2.6" ry="2.3" fill="#0a0a0a"/>
<ellipse cx="985" cy="1150" rx="2.6" ry="2.3" fill="#0a0a0a"/>
<ellipse cx="985" cy="1163.7" rx="2.6" ry="2.3" fill="#0a0a0a"/>
<path d="M908 1005H989M908 998.2v13.6M989 998.2v13.6" class="br"/>
<text transform="translate(948.5,992.9) scale(1.25,1)" text-anchor="middle" class="pv">0.5125</text>
<text transform="translate(755.3,1069.8) scale(1.33,1) rotate(-90)" text-anchor="middle" textLength="95" lengthAdjust="spacingAndGlyphs" class="yl"><tspan font-style="italic">J</tspan>H<tspan class="sb" dy="5.3">2</tspan><tspan dy="-5.3">O</tspan><tspan class="sb" dy="5.3">2</tspan><tspan dy="-5.3">/</tspan><tspan font-style="italic">J</tspan>O<tspan class="sb" dy="5.3">2</tspan></text>
<!-- row D -->
<text transform="translate(8.5,1283) scale(1.07,1)" class="lt">D</text>
<text x="503.5" y="1287" textLength="186" lengthAdjust="spacingAndGlyphs" class="tt" style="fill:#0a18f4;stroke:#0a18f4;font-size:30.5px">NS-linked ET</text>
<text x="110" y="1331.6" textLength="157" lengthAdjust="spacingAndGlyphs" class="st">Mass-specific</text>
<text x="273.3" y="1331.6" textLength="61.5" lengthAdjust="spacingAndGlyphs" class="st">H<tspan class="ss" dy="7">2</tspan><tspan dy="-7">O</tspan><tspan class="ss" dy="7">2</tspan></text>
<text x="341.5" y="1331.6" textLength="44.5" lengthAdjust="spacingAndGlyphs" class="st">flux</text>
<rect x="184.8" y="1482.3" width="51.4" height="67.4" fill="#0a0a0a"/>
<rect x="189" y="1485.7" width="43" height="64" fill="#08f48f"/>
<rect x="262.2" y="1459.3" width="51.6" height="90.4" fill="#0a0a0a"/>
<rect x="266.4" y="1462.7" width="43.2" height="87" fill="#0a9656"/>
<path d="M159.2 1369.1V1610.5" class="ay"/>
<path d="M157.9 1609.3H339.2" class="ax"/>
<path d="M159.2 1549.7H339.2" class="ax"/>
<path d="M146.4 1370.3H159.2" class="ax"/>
<text transform="translate(142.2,1377.4) scale(1.205,1)" text-anchor="end" class="tk">0.0003</text>
<path d="M146.4 1430.05H159.2" class="ax"/>
<text transform="translate(142.2,1437.15) scale(1.205,1)" text-anchor="end" class="tk">0.0002</text>
<path d="M146.4 1489.8H159.2" class="ax"/>
<text transform="translate(142.2,1496.9) scale(1.205,1)" text-anchor="end" class="tk">0.0001</text>
<path d="M146.4 1549.55H159.2" class="ax"/>
<text transform="translate(142.2,1556.65) scale(1.205,1)" text-anchor="end" class="tk">0.0000</text>
<path d="M146.4 1609.3H159.2" class="ax"/>
<text transform="translate(142.2,1616.4) scale(1.205,1)" text-anchor="end" class="tk">-0.0001</text>
<path d="M210.5 1609.3V1619.3" class="ay"/>
<text transform="translate(215.7,1638.1) scale(1.1,1) rotate(-45)" text-anchor="end" class="xl">Ctrl</text>
<path d="M288.1 1609.3V1619.3" class="ay"/>
<text transform="translate(292.1,1638.1) scale(1.1,1) rotate(-45)" text-anchor="end" class="xl">HPC</text>
<path d="M210.5 1465.7V1517.7M197.5 1465.7h26M197.5 1517.7h26" class="er"/>
<path d="M288.1 1414V1577.3M275.1 1414h26M275.1 1577.3h26" class="er"/>
<ellipse cx="210" cy="1433.3" rx="2.6" ry="2.3" fill="#0a0a0a"/>
<ellipse cx="210" cy="1460" rx="2.6" ry="2.3" fill="#0a0a0a"/>
<ellipse cx="199" cy="1481.7" rx="2.6" ry="2.3" fill="#0a0a0a"/>
<ellipse cx="210" cy="1481" rx="2.6" ry="2.3" fill="#0a0a0a"/>
<ellipse cx="221" cy="1481" rx="2.6" ry="2.3" fill="#0a0a0a"/>
<ellipse cx="210" cy="1492.7" rx="2.6" ry="2.3" fill="#0a0a0a"/>
<ellipse cx="210" cy="1526" rx="2.6" ry="2.3" fill="#0a0a0a"/>
<ellipse cx="210" cy="1579.7" rx="2.6" ry="2.3" fill="#0a0a0a"/>
<ellipse cx="287.3" cy="1409.3" rx="2.6" ry="2.3" fill="#0a0a0a"/>
<ellipse cx="287.3" cy="1430.7" rx="2.6" ry="2.3" fill="#0a0a0a"/>
<ellipse cx="287.3" cy="1487.3" rx="2.6" ry="2.3" fill="#0a0a0a"/>
<ellipse cx="287.3" cy="1573.7" rx="2.6" ry="2.3" fill="#0a0a0a"/>
<ellipse cx="287.3" cy="1588.7" rx="2.6" ry="2.3" fill="#0a0a0a"/>
<path d="M208.5 1395.7H289.3M208.5 1388.9v13.6M289.3 1388.9v13.6" class="br"/>
<text transform="translate(248.9,1383) scale(1.25,1)" text-anchor="middle" class="pv">0.6387</text>
<text transform="translate(57.5,1488.8) scale(1.33,1) rotate(-90)" text-anchor="middle" textLength="233" lengthAdjust="spacingAndGlyphs" class="yl">H<tspan class="sb" dy="5.3">2</tspan><tspan dy="-5.3">O</tspan><tspan class="sb" dy="5.3">2</tspan><tspan dy="-5.3"> </tspan><tspan letter-spacing="-1.05" dx="-2.6">flux</tspan><tspan> / [pmol*s</tspan><tspan class="sp" dy="-6">-1</tspan><tspan dy="6">*mg</tspan><tspan class="sp" dy="-6">-1</tspan><tspan dy="6">]</tspan></text>
<text x="460.2" y="1331.6" textLength="128.5" lengthAdjust="spacingAndGlyphs" class="st">mt-specific</text>
<text x="596.5" y="1331.6" textLength="59.5" lengthAdjust="spacingAndGlyphs" class="st">H<tspan class="ss" dy="7">2</tspan><tspan dy="-7">O</tspan><tspan class="ss" dy="7">2</tspan></text>
<text x="662.8" y="1331.6" textLength="44.5" lengthAdjust="spacingAndGlyphs" class="st">flux</text>
<rect x="533.9" y="1499.3" width="51.4" height="52.9" fill="#0a0a0a"/>
<rect x="538.1" y="1502.7" width="43" height="49.5" fill="#08f48f"/>
<rect x="611.3" y="1497.3" width="51.6" height="54.9" fill="#0a0a0a"/>
<rect x="615.5" y="1500.7" width="43.2" height="51.5" fill="#0a9656"/>
<path d="M508.3 1370.5V1613.4" class="ay"/>
<path d="M507 1612.2H688.3" class="ax"/>
<path d="M508.3 1552.2H688.3" class="ax"/>
<path d="M496.3 1371.7H508.3" class="ax"/>
<text transform="translate(492.1,1378.8) scale(1.205,1)" text-anchor="end" class="tk">1.5</text>
<path d="M496.3 1431.83H508.3" class="ax"/>
<text transform="translate(492.1,1438.92) scale(1.205,1)" text-anchor="end" class="tk">1.0</text>
<path d="M496.3 1491.95H508.3" class="ax"/>
<text transform="translate(492.1,1499.05) scale(1.205,1)" text-anchor="end" class="tk">0.5</text>
<path d="M496.3 1552.08H508.3" class="ax"/>
<text transform="translate(492.1,1559.17) scale(1.205,1)" text-anchor="end" class="tk">0.0</text>
<path d="M496.3 1612.2H508.3" class="ax"/>
<text transform="translate(492.1,1619.3) scale(1.205,1)" text-anchor="end" class="tk">-0.5</text>
<path d="M559.6 1612.2V1622.2" class="ay"/>
<text transform="translate(564.8,1641) scale(1.1,1) rotate(-45)" text-anchor="end" class="xl">Ctrl</text>
<path d="M637.2 1612.2V1622.2" class="ay"/>
<text transform="translate(641.2,1641) scale(1.1,1) rotate(-45)" text-anchor="end" class="xl">HPC</text>
<path d="M559.6 1476V1526.7M546.6 1476h26M546.6 1526.7h26" class="er"/>
<path d="M637.2 1447.3V1578.3M624.2 1447.3h26M624.2 1578.3h26" class="er"/>
<ellipse cx="559.3" cy="1426" rx="2.6" ry="2.3" fill="#0a0a0a"/>
<ellipse cx="559.3" cy="1472.3" rx="2.6" ry="2.3" fill="#0a0a0a"/>
<ellipse cx="559.3" cy="1487.7" rx="2.6" ry="2.3" fill="#0a0a0a"/>
<ellipse cx="553.7" cy="1497.7" rx="2.6" ry="2.3" fill="#0a0a0a"/>
<ellipse cx="565.3" cy="1499.3" rx="2.6" ry="2.3" fill="#0a0a0a"/>
<ellipse cx="559.3" cy="1507.3" rx="2.6" ry="2.3" fill="#0a0a0a"/>
<ellipse cx="559.3" cy="1532.7" rx="2.6" ry="2.3" fill="#0a0a0a"/>
<ellipse cx="559.3" cy="1585" rx="2.6" ry="2.3" fill="#0a0a0a"/>
<ellipse cx="630.3" cy="1448.3" rx="2.6" ry="2.3" fill="#0a0a0a"/>
<ellipse cx="642" cy="1444" rx="2.6" ry="2.3" fill="#0a0a0a"/>
<ellipse cx="630.3" cy="1497.3" rx="2.6" ry="2.3" fill="#0a0a0a"/>
<ellipse cx="642" cy="1496.7" rx="2.6" ry="2.3" fill="#0a0a0a"/>
<ellipse cx="636.3" cy="1575" rx="2.6" ry="2.3" fill="#0a0a0a"/>
<ellipse cx="636.3" cy="1590" rx="2.6" ry="2.3" fill="#0a0a0a"/>
<path d="M557.5 1403.2H637.7M557.5 1396.4v13.6M637.7 1396.4v13.6" class="br"/>
<text transform="translate(597,1392.6) scale(1.25,1)" text-anchor="middle" class="pv">&gt;0.9999</text>
<text transform="translate(441.5,1490.95) scale(1.33,1) rotate(-90)" text-anchor="middle" textLength="260.5" lengthAdjust="spacingAndGlyphs" class="yl">H<tspan class="sb" dy="5.3">2</tspan><tspan dy="-5.3">O</tspan><tspan class="sb" dy="5.3">2</tspan><tspan dy="-5.3"> </tspan><tspan letter-spacing="-1.05" dx="-2.6">flux</tspan><tspan> / [pmol*s</tspan><tspan class="sp" dy="-6">-1</tspan><tspan dy="6">*IU CS</tspan><tspan class="sp" dy="-6">-1</tspan><tspan dy="6">]</tspan></text>
<text transform="translate(890.7,1331.9) scale(0.9,1)" font-size="26.5" font-weight="bold" stroke="#0a0a0a" stroke-width=".45" font-style="italic">J</text>
<text transform="translate(901.8,1337.6) scale(0.95,1)" font-size="17" font-weight="bold" stroke="#0a0a0a" stroke-width=".45">H</text>
<text transform="translate(913.1,1342.6) scale(1.2,1)" font-size="16" font-weight="bold" stroke="#0a0a0a" stroke-width=".45">2</text>
<text transform="translate(924.7,1337.6) scale(1.0,1)" font-size="17" font-weight="bold" stroke="#0a0a0a" stroke-width=".45">O</text>
<text transform="translate(937.4,1342.6) scale(1.15,1)" font-size="16" font-weight="bold" stroke="#0a0a0a" stroke-width=".45">2</text>
<path d="M948.7 1338.4L957.1 1312.1" stroke="#0a0a0a" stroke-width="3.6" fill="none"/>
<text transform="translate(958.6,1331.9) scale(0.9,1)" font-size="26.5" font-weight="bold" stroke="#0a0a0a" stroke-width=".45" font-style="italic">J</text>
<text transform="translate(970.7,1337.6) scale(1.0,1)" font-size="17" font-weight="bold" stroke="#0a0a0a" stroke-width=".45">O</text>
<text transform="translate(983.4,1342.6) scale(1.1,1)" font-size="16" font-weight="bold" stroke="#0a0a0a" stroke-width=".45">2</text>
<rect x="883.8" y="1492.7" width="51.4" height="59.5" fill="#0a0a0a"/>
<rect x="888" y="1496.1" width="43" height="56.1" fill="#08f48f"/>
<rect x="961.2" y="1491.3" width="51.6" height="60.9" fill="#0a0a0a"/>
<rect x="965.4" y="1494.7" width="43.2" height="57.5" fill="#0a9656"/>
<path d="M858.2 1370.5V1613.4" class="ay"/>
<path d="M856.9 1612.2H1038.2" class="ax"/>
<path d="M858.2 1552.2H1038.2" class="ax"/>
<path d="M846.2 1371.7H858.2" class="ax"/>
<text transform="translate(842,1378.8) scale(1.205,1)" text-anchor="end" class="tk">0.0003</text>
<path d="M846.2 1431.83H858.2" class="ax"/>
<text transform="translate(842,1438.92) scale(1.205,1)" text-anchor="end" class="tk">0.0002</text>
<path d="M846.2 1491.95H858.2" class="ax"/>
<text transform="translate(842,1499.05) scale(1.205,1)" text-anchor="end" class="tk">0.0001</text>
<path d="M846.2 1552.08H858.2" class="ax"/>
<text transform="translate(842,1559.17) scale(1.205,1)" text-anchor="end" class="tk">0.0000</text>
<path d="M846.2 1612.2H858.2" class="ax"/>
<text transform="translate(842,1619.3) scale(1.205,1)" text-anchor="end" class="tk">-0.0001</text>
<path d="M909.5 1612.2V1622.2" class="ay"/>
<text transform="translate(914.7,1641) scale(1.1,1) rotate(-45)" text-anchor="end" class="xl">Ctrl</text>
<path d="M987.1 1612.2V1622.2" class="ay"/>
<text transform="translate(991.1,1641) scale(1.1,1) rotate(-45)" text-anchor="end" class="xl">HPC</text>
<path d="M909.5 1465.7V1561.3M896.5 1465.7h26M896.5 1561.3h26" class="er"/>
<path d="M987.1 1461.7V1570.7M974.1 1461.7h26M974.1 1570.7h26" class="er"/>
<ellipse cx="909" cy="1459.3" rx="2.6" ry="2.3" fill="#0a0a0a"/>
<ellipse cx="903.3" cy="1465" rx="2.6" ry="2.3" fill="#0a0a0a"/>
<ellipse cx="914.7" cy="1468.3" rx="2.6" ry="2.3" fill="#0a0a0a"/>
<ellipse cx="903.3" cy="1491.7" rx="2.6" ry="2.3" fill="#0a0a0a"/>
<ellipse cx="914.7" cy="1491.7" rx="2.6" ry="2.3" fill="#0a0a0a"/>
<ellipse cx="909" cy="1525.3" rx="2.6" ry="2.3" fill="#0a0a0a"/>
<ellipse cx="909" cy="1573.7" rx="2.6" ry="2.3" fill="#0a0a0a"/>
<ellipse cx="909" cy="1582.7" rx="2.6" ry="2.3" fill="#0a0a0a"/>
<ellipse cx="981.3" cy="1462.3" rx="2.6" ry="2.3" fill="#0a0a0a"/>
<ellipse cx="993" cy="1459.3" rx="2.6" ry="2.3" fill="#0a0a0a"/>
<ellipse cx="987.3" cy="1474" rx="2.6" ry="2.3" fill="#0a0a0a"/>
<ellipse cx="987.3" cy="1507.3" rx="2.6" ry="2.3" fill="#0a0a0a"/>
<ellipse cx="987.3" cy="1567.3" rx="2.6" ry="2.3" fill="#0a0a0a"/>
<ellipse cx="987.3" cy="1579.3" rx="2.6" ry="2.3" fill="#0a0a0a"/>
<path d="M908 1415.7H989.3M908 1408.9v13.6M989.3 1408.9v13.6" class="br"/>
<text transform="translate(948.65,1403.5) scale(1.25,1)" text-anchor="middle" class="pv">0.8778</text>
<text transform="translate(755,1490.95) scale(1.33,1) rotate(-90)" text-anchor="middle" textLength="95" lengthAdjust="spacingAndGlyphs" class="yl"><tspan font-style="italic">J</tspan>H<tspan class="sb" dy="5.3">2</tspan><tspan dy="-5.3">O</tspan><tspan class="sb" dy="5.3">2</tspan><tspan dy="-5.3">/</tspan><tspan font-style="italic">J</tspan>O<tspan class="sb" dy="5.3">2</tspan></text>
<!-- row E -->
<text transform="translate(9,1696.5) scale(1.07,1)" class="lt">E</text>
<text x="516.2" y="1701.6" textLength="160.5" lengthAdjust="spacingAndGlyphs" class="tt" style="fill:#0a18f4;stroke:#0a18f4;font-size:30.5px">S-linked ET</text>
<text x="110" y="1746.1" textLength="157" lengthAdjust="spacingAndGlyphs" class="st">Mass-specific</text>
<text x="273.3" y="1746.1" textLength="61.5" lengthAdjust="spacingAndGlyphs" class="st">H<tspan class="ss" dy="7">2</tspan><tspan dy="-7">O</tspan><tspan class="ss" dy="7">2</tspan></text>
<text x="341.5" y="1746.1" textLength="44.5" lengthAdjust="spacingAndGlyphs" class="st">flux</text>
<rect x="183.7" y="1910.7" width="51.4" height="113.1" fill="#0a0a0a"/>
<rect x="187.9" y="1914.1" width="43" height="109.7" fill="#08f48f"/>
<rect x="261.1" y="1891" width="51.6" height="132.8" fill="#0a0a0a"/>
<rect x="265.3" y="1894.4" width="43.2" height="129.4" fill="#0a9656"/>
<path d="M158.1 1782.8V2025" class="ay"/>
<path d="M156.8 2023.8H338.1" class="ax"/>
<path d="M146.1 1784H158.1" class="ax"/>
<text transform="translate(141.9,1791.1) scale(1.205,1)" text-anchor="end" class="tk">0.0020</text>
<path d="M146.1 1843.95H158.1" class="ax"/>
<text transform="translate(141.9,1851.05) scale(1.205,1)" text-anchor="end" class="tk">0.0015</text>
<path d="M146.1 1903.9H158.1" class="ax"/>
<text transform="translate(141.9,1911) scale(1.205,1)" text-anchor="end" class="tk">0.0010</text>
<path d="M146.1 1963.85H158.1" class="ax"/>
<text transform="translate(141.9,1970.95) scale(1.205,1)" text-anchor="end" class="tk">0.0005</text>
<path d="M146.1 2023.8H158.1" class="ax"/>
<text transform="translate(141.9,2030.9) scale(1.205,1)" text-anchor="end" class="tk">0.0000</text>
<path d="M209.4 2023.8V2033.8" class="ay"/>
<text transform="translate(214.6,2052.6) scale(1.1,1) rotate(-45)" text-anchor="end" class="xl">Ctrl</text>
<path d="M287 2023.8V2033.8" class="ay"/>
<text transform="translate(291,2052.6) scale(1.1,1) rotate(-45)" text-anchor="end" class="xl">HPC</text>
<path d="M209.4 1873V1950.3M196.4 1873h26M196.4 1950.3h26" class="er"/>
<path d="M287 1870V1914M274 1870h26M274 1914h26" class="er"/>
<ellipse cx="209" cy="1819" rx="2.6" ry="2.3" fill="#0a0a0a"/>
<ellipse cx="209" cy="1861.3" rx="2.6" ry="2.3" fill="#0a0a0a"/>
<ellipse cx="198.3" cy="1907.7" rx="2.6" ry="2.3" fill="#0a0a0a"/>
<ellipse cx="209" cy="1910" rx="2.6" ry="2.3" fill="#0a0a0a"/>
<ellipse cx="220" cy="1909.3" rx="2.6" ry="2.3" fill="#0a0a0a"/>
<ellipse cx="209" cy="1937.7" rx="2.6" ry="2.3" fill="#0a0a0a"/>
<ellipse cx="209" cy="1954.3" rx="2.6" ry="2.3" fill="#0a0a0a"/>
<ellipse cx="209" cy="1961.3" rx="2.6" ry="2.3" fill="#0a0a0a"/>
<ellipse cx="286" cy="1853" rx="2.6" ry="2.3" fill="#0a0a0a"/>
<ellipse cx="286" cy="1875.7" rx="2.6" ry="2.3" fill="#0a0a0a"/>
<ellipse cx="286" cy="1881" rx="2.6" ry="2.3" fill="#0a0a0a"/>
<ellipse cx="286" cy="1899" rx="2.6" ry="2.3" fill="#0a0a0a"/>
<ellipse cx="280.7" cy="1914.3" rx="2.6" ry="2.3" fill="#0a0a0a"/>
<ellipse cx="291.7" cy="1913.7" rx="2.6" ry="2.3" fill="#0a0a0a"/>
<path d="M208.3 1802.3H290M208.3 1795.5v13.6M290 1795.5v13.6" class="br"/>
<text transform="translate(249.15,1791.9) scale(1.25,1)" text-anchor="middle" class="pv">0.4136</text>
<text transform="translate(59,1902.9) scale(1.33,1) rotate(-90)" text-anchor="middle" textLength="233" lengthAdjust="spacingAndGlyphs" class="yl">H<tspan class="sb" dy="5.3">2</tspan><tspan dy="-5.3">O</tspan><tspan class="sb" dy="5.3">2</tspan><tspan dy="-5.3"> </tspan><tspan letter-spacing="-1.05" dx="-2.6">flux</tspan><tspan> / [pmol*s</tspan><tspan class="sp" dy="-6">-1</tspan><tspan dy="6">*mg</tspan><tspan class="sp" dy="-6">-1</tspan><tspan dy="6">]</tspan></text>
<text x="460.2" y="1746.1" textLength="128.5" lengthAdjust="spacingAndGlyphs" class="st">mt-specific</text>
<text x="596.5" y="1746.1" textLength="59.5" lengthAdjust="spacingAndGlyphs" class="st">H<tspan class="ss" dy="7">2</tspan><tspan dy="-7">O</tspan><tspan class="ss" dy="7">2</tspan></text>
<text x="662.8" y="1746.1" textLength="44.5" lengthAdjust="spacingAndGlyphs" class="st">flux</text>
<rect x="532.8" y="1920.7" width="51.4" height="103.1" fill="#0a0a0a"/>
<rect x="537" y="1924.1" width="43" height="99.7" fill="#08f48f"/>
<rect x="610.2" y="1899" width="51.6" height="124.8" fill="#0a0a0a"/>
<rect x="614.4" y="1902.4" width="43.2" height="121.4" fill="#0a9656"/>
<path d="M507.2 1782.8V2025" class="ay"/>
<path d="M505.9 2023.8H687.2" class="ax"/>
<path d="M495.2 1784H507.2" class="ax"/>
<text transform="translate(491,1791.1) scale(1.205,1)" text-anchor="end" class="tk">4</text>
<path d="M495.2 1843.95H507.2" class="ax"/>
<text transform="translate(491,1851.05) scale(1.205,1)" text-anchor="end" class="tk">3</text>
<path d="M495.2 1903.9H507.2" class="ax"/>
<text transform="translate(491,1911) scale(1.205,1)" text-anchor="end" class="tk">2</text>
<path d="M495.2 1963.85H507.2" class="ax"/>
<text transform="translate(491,1970.95) scale(1.205,1)" text-anchor="end" class="tk">1</text>
<path d="M495.2 2023.8H507.2" class="ax"/>
<text transform="translate(491,2030.9) scale(1.205,1)" text-anchor="end" class="tk">0</text>
<path d="M558.5 2023.8V2033.8" class="ay"/>
<text transform="translate(563.7,2052.6) scale(1.1,1) rotate(-45)" text-anchor="end" class="xl">Ctrl</text>
<path d="M636.1 2023.8V2033.8" class="ay"/>
<text transform="translate(640.1,2052.6) scale(1.1,1) rotate(-45)" text-anchor="end" class="xl">HPC</text>
<path d="M558.5 1899.3V1940.3M545.5 1899.3h26M545.5 1940.3h26" class="er"/>
<path d="M636.1 1861V1919.3M623.1 1861h26M623.1 1919.3h26" class="er"/>
<ellipse cx="558" cy="1853.3" rx="2.6" ry="2.3" fill="#0a0a0a"/>
<ellipse cx="558" cy="1895" rx="2.6" ry="2.3" fill="#0a0a0a"/>
<ellipse cx="552.7" cy="1914" rx="2.6" ry="2.3" fill="#0a0a0a"/>
<ellipse cx="563.7" cy="1912.3" rx="2.6" ry="2.3" fill="#0a0a0a"/>
<ellipse cx="558" cy="1925.7" rx="2.6" ry="2.3" fill="#0a0a0a"/>
<ellipse cx="552.7" cy="1940" rx="2.6" ry="2.3" fill="#0a0a0a"/>
<ellipse cx="563.7" cy="1941" rx="2.6" ry="2.3" fill="#0a0a0a"/>
<ellipse cx="558" cy="1977" rx="2.6" ry="2.3" fill="#0a0a0a"/>
<ellipse cx="630.3" cy="1861.7" rx="2.6" ry="2.3" fill="#0a0a0a"/>
<ellipse cx="641.3" cy="1857.7" rx="2.6" ry="2.3" fill="#0a0a0a"/>
<ellipse cx="635.7" cy="1892.7" rx="2.6" ry="2.3" fill="#0a0a0a"/>
<ellipse cx="635.7" cy="1904" rx="2.6" ry="2.3" fill="#0a0a0a"/>
<ellipse cx="630.3" cy="1921" rx="2.6" ry="2.3" fill="#0a0a0a"/>
<ellipse cx="641.3" cy="1919" rx="2.6" ry="2.3" fill="#0a0a0a"/>
<path d="M556.6 1832.1H637.8M556.6 1825.3v13.6M637.8 1825.3v13.6" class="br"/>
<text transform="translate(597.2,1821.8) scale(1.25,1)" text-anchor="middle" class="pv">0.1812</text>
<text transform="translate(464.3,1902.9) scale(1.33,1) rotate(-90)" text-anchor="middle" textLength="260.5" lengthAdjust="spacingAndGlyphs" class="yl">H<tspan class="sb" dy="5.3">2</tspan><tspan dy="-5.3">O</tspan><tspan class="sb" dy="5.3">2</tspan><tspan dy="-5.3"> </tspan><tspan letter-spacing="-1.05" dx="-2.6">flux</tspan><tspan> / [pmol*s</tspan><tspan class="sp" dy="-6">-1</tspan><tspan dy="6">*IU CS</tspan><tspan class="sp" dy="-6">-1</tspan><tspan dy="6">]</tspan></text>
<text transform="translate(890.7,1746.9) scale(0.9,1)" font-size="26.5" font-weight="bold" stroke="#0a0a0a" stroke-width=".45" font-style="italic">J</text>
<text transform="translate(901.8,1752.6) scale(0.95,1)" font-size="17" font-weight="bold" stroke="#0a0a0a" stroke-width=".45">H</text>
<text transform="translate(913.1,1757.6) scale(1.2,1)" font-size="16" font-weight="bold" stroke="#0a0a0a" stroke-width=".45">2</text>
<text transform="translate(924.7,1752.6) scale(1.0,1)" font-size="17" font-weight="bold" stroke="#0a0a0a" stroke-width=".45">O</text>
<text transform="translate(937.4,1757.6) scale(1.15,1)" font-size="16" font-weight="bold" stroke="#0a0a0a" stroke-width=".45">2</text>
<path d="M948.7 1753.4L957.1 1727.1" stroke="#0a0a0a" stroke-width="3.6" fill="none"/>
<text transform="translate(958.6,1746.9) scale(0.9,1)" font-size="26.5" font-weight="bold" stroke="#0a0a0a" stroke-width=".45" font-style="italic">J</text>
<text transform="translate(970.7,1752.6) scale(1.0,1)" font-size="17" font-weight="bold" stroke="#0a0a0a" stroke-width=".45">O</text>
<text transform="translate(983.4,1757.6) scale(1.1,1)" font-size="16" font-weight="bold" stroke="#0a0a0a" stroke-width=".45">2</text>
<rect x="884.2" y="1957.3" width="51.4" height="67.6" fill="#0a0a0a"/>
<rect x="888.4" y="1960.7" width="43" height="64.2" fill="#08f48f"/>
<rect x="961.6" y="1967" width="51.6" height="57.9" fill="#0a0a0a"/>
<rect x="965.8" y="1970.4" width="43.2" height="54.5" fill="#0a9656"/>
<path d="M858.6 1782.8V2026.1" class="ay"/>
<path d="M857.3 2024.9H1038.6" class="ax"/>
<path d="M846.6 1784H858.6" class="ax"/>
<text transform="translate(842.4,1791.1) scale(1.205,1)" text-anchor="end" class="tk">0.003</text>
<path d="M846.6 1864.3H858.6" class="ax"/>
<text transform="translate(842.4,1871.4) scale(1.205,1)" text-anchor="end" class="tk">0.002</text>
<path d="M846.6 1944.6H858.6" class="ax"/>
<text transform="translate(842.4,1951.7) scale(1.205,1)" text-anchor="end" class="tk">0.001</text>
<path d="M846.6 2024.9H858.6" class="ax"/>
<text transform="translate(842.4,2032) scale(1.205,1)" text-anchor="end" class="tk">0.000</text>
<path d="M909.9 2024.9V2034.9" class="ay"/>
<text transform="translate(915.1,2053.7) scale(1.1,1) rotate(-45)" text-anchor="end" class="xl">Ctrl</text>
<path d="M987.5 2024.9V2034.9" class="ay"/>
<text transform="translate(991.5,2053.7) scale(1.1,1) rotate(-45)" text-anchor="end" class="xl">HPC</text>
<path d="M909.9 1923V1972.3M896.9 1923h26M896.9 1972.3h26" class="er"/>
<path d="M987.5 1950V1971.3M974.5 1950h26M974.5 1971.3h26" class="er"/>
<ellipse cx="909.7" cy="1889" rx="2.6" ry="2.3" fill="#0a0a0a"/>
<ellipse cx="909.7" cy="1915" rx="2.6" ry="2.3" fill="#0a0a0a"/>
<ellipse cx="909.7" cy="1946.7" rx="2.6" ry="2.3" fill="#0a0a0a"/>
<ellipse cx="904" cy="1956.7" rx="2.6" ry="2.3" fill="#0a0a0a"/>
<ellipse cx="914.7" cy="1957.7" rx="2.6" ry="2.3" fill="#0a0a0a"/>
<ellipse cx="904" cy="1969.3" rx="2.6" ry="2.3" fill="#0a0a0a"/>
<ellipse cx="914.7" cy="1969.3" rx="2.6" ry="2.3" fill="#0a0a0a"/>
<ellipse cx="909.7" cy="1985" rx="2.6" ry="2.3" fill="#0a0a0a"/>
<ellipse cx="987.3" cy="1936" rx="2.6" ry="2.3" fill="#0a0a0a"/>
<ellipse cx="987.3" cy="1953.3" rx="2.6" ry="2.3" fill="#0a0a0a"/>
<ellipse cx="982.3" cy="1966" rx="2.6" ry="2.3" fill="#0a0a0a"/>
<ellipse cx="993" cy="1965" rx="2.6" ry="2.3" fill="#0a0a0a"/>
<ellipse cx="993" cy="1969.3" rx="2.6" ry="2.3" fill="#0a0a0a"/>
<ellipse cx="982.3" cy="1975" rx="2.6" ry="2.3" fill="#0a0a0a"/>
<path d="M908 1843.3H989M908 1836.5v13.6M989 1836.5v13.6" class="br"/>
<text transform="translate(948.5,1831.8) scale(1.25,1)" text-anchor="middle" class="pv">0.6620</text>
<text transform="translate(771.6,1903.45) scale(1.33,1) rotate(-90)" text-anchor="middle" textLength="95" lengthAdjust="spacingAndGlyphs" class="yl"><tspan font-style="italic">J</tspan>H<tspan class="sb" dy="5.3">2</tspan><tspan dy="-5.3">O</tspan><tspan class="sb" dy="5.3">2</tspan><tspan dy="-5.3">/</tspan><tspan font-style="italic">J</tspan>O<tspan class="sb" dy="5.3">2</tspan></text>
<!-- row F -->
<text transform="translate(9,2117.5) scale(1.07,1)" class="lt">F</text>
<text x="479.3" y="2119" textLength="238" lengthAdjust="spacingAndGlyphs" class="tt" style="fill:#0a0a0a;stroke:#0a0a0a;font-size:30.5px">CIII contribution</text>
<text x="110" y="2165.3" textLength="157" lengthAdjust="spacingAndGlyphs" class="st">Mass-specific</text>
<text x="273.3" y="2165.3" textLength="61.5" lengthAdjust="spacingAndGlyphs" class="st">H<tspan class="ss" dy="7">2</tspan><tspan dy="-7">O</tspan><tspan class="ss" dy="7">2</tspan></text>
<text x="341.5" y="2165.3" textLength="44.5" lengthAdjust="spacingAndGlyphs" class="st">flux</text>
<rect x="183.66" y="2294.3" width="51.91" height="150.5" fill="#0a0a0a"/>
<rect x="187.86" y="2297.7" width="43.51" height="147.1" fill="#08f48f"/>
<rect x="261.83" y="2342.7" width="52.12" height="102.1" fill="#0a0a0a"/>
<rect x="266.03" y="2346.1" width="43.72" height="98.7" fill="#0a9656"/>
<path d="M157.8 2202.1V2446" class="ay"/>
<path d="M156.5 2444.8H339.6" class="ax"/>
<path d="M145.8 2203.3H157.8" class="ax"/>
<text transform="translate(141.6,2210.4) scale(1.205,1)" text-anchor="end" class="tk">0.20</text>
<path d="M145.8 2263.68H157.8" class="ax"/>
<text transform="translate(141.6,2270.78) scale(1.205,1)" text-anchor="end" class="tk">0.15</text>
<path d="M145.8 2324.05H157.8" class="ax"/>
<text transform="translate(141.6,2331.15) scale(1.205,1)" text-anchor="end" class="tk">0.10</text>
<path d="M145.8 2384.43H157.8" class="ax"/>
<text transform="translate(141.6,2391.53) scale(1.205,1)" text-anchor="end" class="tk">0.05</text>
<path d="M145.8 2444.8H157.8" class="ax"/>
<text transform="translate(141.6,2451.9) scale(1.205,1)" text-anchor="end" class="tk">0.00</text>
<path d="M209.61 2444.8V2454.8" class="ay"/>
<text transform="translate(214.81,2473.6) scale(1.1,1) rotate(-45)" text-anchor="end" class="xl">Ctrl</text>
<path d="M287.99 2444.8V2454.8" class="ay"/>
<text transform="translate(291.99,2473.6) scale(1.1,1) rotate(-45)" text-anchor="end" class="xl">HPC</text>
<path d="M209.61 2283.3V2314.7M196.61 2283.3h26M196.61 2314.7h26" class="er"/>
<path d="M287.99 2325.3V2359.3M274.99 2325.3h26M274.99 2359.3h26" class="er"/>
<ellipse cx="199" cy="2279" rx="2.6" ry="2.3" fill="#0a0a0a"/>
<ellipse cx="210" cy="2280" rx="2.6" ry="2.3" fill="#0a0a0a"/>
<ellipse cx="199" cy="2291.7" rx="2.6" ry="2.3" fill="#0a0a0a"/>
<ellipse cx="210" cy="2295" rx="2.6" ry="2.3" fill="#0a0a0a"/>
<ellipse cx="220" cy="2293.3" rx="2.6" ry="2.3" fill="#0a0a0a"/>
<ellipse cx="210" cy="2305.7" rx="2.6" ry="2.3" fill="#0a0a0a"/>
<ellipse cx="210" cy="2316.7" rx="2.6" ry="2.3" fill="#0a0a0a"/>
<ellipse cx="210" cy="2322.7" rx="2.6" ry="2.3" fill="#0a0a0a"/>
<ellipse cx="287.7" cy="2303.3" rx="2.6" ry="2.3" fill="#0a0a0a"/>
<ellipse cx="282.3" cy="2332.3" rx="2.6" ry="2.3" fill="#0a0a0a"/>
<ellipse cx="292.7" cy="2334" rx="2.6" ry="2.3" fill="#0a0a0a"/>
<ellipse cx="287.7" cy="2350" rx="2.6" ry="2.3" fill="#0a0a0a"/>
<ellipse cx="287.7" cy="2355.7" rx="2.6" ry="2.3" fill="#0a0a0a"/>
<ellipse cx="287.7" cy="2373.3" rx="2.6" ry="2.3" fill="#0a0a0a"/>
<path d="M209 2251H289.3M209 2244.2v13.6M289.3 2244.2v13.6" class="br"/>
<text transform="translate(249.15,2240.6) scale(1.25,1)" text-anchor="middle" class="pv">0.0047</text>
<text transform="translate(84.5,2323.05) scale(1.33,1) rotate(-90)" text-anchor="middle" textLength="233" lengthAdjust="spacingAndGlyphs" class="yl">H<tspan class="sb" dy="5.3">2</tspan><tspan dy="-5.3">O</tspan><tspan class="sb" dy="5.3">2</tspan><tspan dy="-5.3"> </tspan><tspan letter-spacing="-1.05" dx="-2.6">flux</tspan><tspan> / [pmol*s</tspan><tspan class="sp" dy="-6">-1</tspan><tspan dy="6">*mg</tspan><tspan class="sp" dy="-6">-1</tspan><tspan dy="6">]</tspan></text>
<text x="460.2" y="2165.3" textLength="128.5" lengthAdjust="spacingAndGlyphs" class="st">mt-specific</text>
<text x="596.5" y="2165.3" textLength="59.5" lengthAdjust="spacingAndGlyphs" class="st">H<tspan class="ss" dy="7">2</tspan><tspan dy="-7">O</tspan><tspan class="ss" dy="7">2</tspan></text>
<text x="662.8" y="2165.3" textLength="44.5" lengthAdjust="spacingAndGlyphs" class="st">flux</text>
<rect x="533.2" y="2325" width="51.4" height="118.8" fill="#0a0a0a"/>
<rect x="537.4" y="2328.4" width="43" height="115.4" fill="#08f48f"/>
<rect x="610.6" y="2338.3" width="51.6" height="105.5" fill="#0a0a0a"/>
<rect x="614.8" y="2341.7" width="43.2" height="102.1" fill="#0a9656"/>
<path d="M507.6 2202.1V2445" class="ay"/>
<path d="M506.3 2443.8H687.6" class="ax"/>
<path d="M495.6 2203.3H507.6" class="ax"/>
<text transform="translate(491.4,2210.4) scale(1.205,1)" text-anchor="end" class="tk">20</text>
<path d="M495.6 2263.43H507.6" class="ax"/>
<text transform="translate(491.4,2270.53) scale(1.205,1)" text-anchor="end" class="tk">15</text>
<path d="M495.6 2323.55H507.6" class="ax"/>
<text transform="translate(491.4,2330.65) scale(1.205,1)" text-anchor="end" class="tk">10</text>
<path d="M495.6 2383.68H507.6" class="ax"/>
<text transform="translate(491.4,2390.78) scale(1.205,1)" text-anchor="end" class="tk">5</text>
<path d="M495.6 2443.8H507.6" class="ax"/>
<text transform="translate(491.4,2450.9) scale(1.205,1)" text-anchor="end" class="tk">0</text>
<path d="M558.9 2443.8V2453.8" class="ay"/>
<text transform="translate(564.1,2472.6) scale(1.1,1) rotate(-45)" text-anchor="end" class="xl">Ctrl</text>
<path d="M636.5 2443.8V2453.8" class="ay"/>
<text transform="translate(640.5,2472.6) scale(1.1,1) rotate(-45)" text-anchor="end" class="xl">HPC</text>
<path d="M558.9 2287.7V2352.7M545.9 2287.7h26M545.9 2352.7h26" class="er"/>
<path d="M636.5 2331.3V2347M623.5 2331.3h26M623.5 2347h26" class="er"/>
<ellipse cx="553.7" cy="2285.7" rx="2.6" ry="2.3" fill="#0a0a0a"/>
<ellipse cx="564.7" cy="2285.7" rx="2.6" ry="2.3" fill="#0a0a0a"/>
<ellipse cx="558.7" cy="2292.7" rx="2.6" ry="2.3" fill="#0a0a0a"/>
<ellipse cx="553.7" cy="2322.7" rx="2.6" ry="2.3" fill="#0a0a0a"/>
<ellipse cx="563.7" cy="2326.7" rx="2.6" ry="2.3" fill="#0a0a0a"/>
<ellipse cx="558.7" cy="2350" rx="2.6" ry="2.3" fill="#0a0a0a"/>
<ellipse cx="558.7" cy="2354.3" rx="2.6" ry="2.3" fill="#0a0a0a"/>
<ellipse cx="558.7" cy="2376.3" rx="2.6" ry="2.3" fill="#0a0a0a"/>
<ellipse cx="631" cy="2332.3" rx="2.6" ry="2.3" fill="#0a0a0a"/>
<ellipse cx="641.3" cy="2330.7" rx="2.6" ry="2.3" fill="#0a0a0a"/>
<ellipse cx="641.3" cy="2336" rx="2.6" ry="2.3" fill="#0a0a0a"/>
<ellipse cx="636.3" cy="2344.3" rx="2.6" ry="2.3" fill="#0a0a0a"/>
<ellipse cx="636.3" cy="2348" rx="2.6" ry="2.3" fill="#0a0a0a"/>
<ellipse cx="636.3" cy="2356" rx="2.6" ry="2.3" fill="#0a0a0a"/>
<path d="M557 2257.3H638M557 2250.5v13.6M638 2250.5v13.6" class="br"/>
<text transform="translate(597.5,2245.8) scale(1.25,1)" text-anchor="middle" class="pv">0.3450</text>
<text transform="translate(452.5,2322.55) scale(1.33,1) rotate(-90)" text-anchor="middle" textLength="260.5" lengthAdjust="spacingAndGlyphs" class="yl">H<tspan class="sb" dy="5.3">2</tspan><tspan dy="-5.3">O</tspan><tspan class="sb" dy="5.3">2</tspan><tspan dy="-5.3"> </tspan><tspan letter-spacing="-1.05" dx="-2.6">flux</tspan><tspan> / [pmol*s</tspan><tspan class="sp" dy="-6">-1</tspan><tspan dy="6">*IU CS</tspan><tspan class="sp" dy="-6">-1</tspan><tspan dy="6">]</tspan></text>
<text transform="translate(890.7,2166.8) scale(0.9,1)" font-size="26.5" font-weight="bold" stroke="#0a0a0a" stroke-width=".45" font-style="italic">J</text>
<text transform="translate(901.8,2172.5) scale(0.95,1)" font-size="17" font-weight="bold" stroke="#0a0a0a" stroke-width=".45">H</text>
<text transform="translate(913.1,2177.5) scale(1.2,1)" font-size="16" font-weight="bold" stroke="#0a0a0a" stroke-width=".45">2</text>
<text transform="translate(924.7,2172.5) scale(1.0,1)" font-size="17" font-weight="bold" stroke="#0a0a0a" stroke-width=".45">O</text>
<text transform="translate(937.4,2177.5) scale(1.15,1)" font-size="16" font-weight="bold" stroke="#0a0a0a" stroke-width=".45">2</text>
<path d="M948.7 2173.3L957.1 2147" stroke="#0a0a0a" stroke-width="3.6" fill="none"/>
<text transform="translate(958.6,2166.8) scale(0.9,1)" font-size="26.5" font-weight="bold" stroke="#0a0a0a" stroke-width=".45" font-style="italic">J</text>
<text transform="translate(970.7,2172.5) scale(1.0,1)" font-size="17" font-weight="bold" stroke="#0a0a0a" stroke-width=".45">O</text>
<text transform="translate(983.4,2177.5) scale(1.1,1)" font-size="16" font-weight="bold" stroke="#0a0a0a" stroke-width=".45">2</text>
<rect x="884.2" y="2350.7" width="51.4" height="95.3" fill="#0a0a0a"/>
<rect x="888.4" y="2354.1" width="43" height="91.9" fill="#08f48f"/>
<rect x="961.6" y="2390.3" width="51.6" height="55.7" fill="#0a0a0a"/>
<rect x="965.8" y="2393.7" width="43.2" height="52.3" fill="#0a9656"/>
<path d="M858.6 2203.8V2447.2" class="ay"/>
<path d="M857.3 2446H1038.6" class="ax"/>
<path d="M846.6 2205H858.6" class="ax"/>
<text transform="translate(842.4,2212.1) scale(1.205,1)" text-anchor="end" class="tk">0.20</text>
<path d="M846.6 2265.25H858.6" class="ax"/>
<text transform="translate(842.4,2272.35) scale(1.205,1)" text-anchor="end" class="tk">0.15</text>
<path d="M846.6 2325.5H858.6" class="ax"/>
<text transform="translate(842.4,2332.6) scale(1.205,1)" text-anchor="end" class="tk">0.10</text>
<path d="M846.6 2385.75H858.6" class="ax"/>
<text transform="translate(842.4,2392.85) scale(1.205,1)" text-anchor="end" class="tk">0.05</text>
<path d="M846.6 2446H858.6" class="ax"/>
<text transform="translate(842.4,2453.1) scale(1.205,1)" text-anchor="end" class="tk">0.00</text>
<path d="M909.9 2446V2456" class="ay"/>
<text transform="translate(915.1,2474.8) scale(1.1,1) rotate(-45)" text-anchor="end" class="xl">Ctrl</text>
<path d="M987.5 2446V2456" class="ay"/>
<text transform="translate(991.5,2474.8) scale(1.1,1) rotate(-45)" text-anchor="end" class="xl">HPC</text>
<path d="M909.9 2329V2362M896.9 2329h26M896.9 2362h26" class="er"/>
<path d="M987.5 2365.3V2395M974.5 2365.3h26M974.5 2395h26" class="er"/>
<ellipse cx="909.7" cy="2319.3" rx="2.6" ry="2.3" fill="#0a0a0a"/>
<ellipse cx="909.7" cy="2326.7" rx="2.6" ry="2.3" fill="#0a0a0a"/>
<ellipse cx="909.7" cy="2335.7" rx="2.6" ry="2.3" fill="#0a0a0a"/>
<ellipse cx="909.7" cy="2344.3" rx="2.6" ry="2.3" fill="#0a0a0a"/>
<ellipse cx="920.7" cy="2353.3" rx="2.6" ry="2.3" fill="#0a0a0a"/>
<ellipse cx="898.5" cy="2362" rx="2.6" ry="2.3" fill="#0a0a0a"/>
<ellipse cx="909.7" cy="2359.3" rx="2.6" ry="2.3" fill="#0a0a0a"/>
<ellipse cx="920.7" cy="2361" rx="2.6" ry="2.3" fill="#0a0a0a"/>
<ellipse cx="987.3" cy="2350.7" rx="2.6" ry="2.3" fill="#0a0a0a"/>
<ellipse cx="987.3" cy="2370" rx="2.6" ry="2.3" fill="#0a0a0a"/>
<ellipse cx="987.3" cy="2387.3" rx="2.6" ry="2.3" fill="#0a0a0a"/>
<ellipse cx="976.5" cy="2394.5" rx="2.6" ry="2.3" fill="#0a0a0a"/>
<ellipse cx="987.3" cy="2394" rx="2.6" ry="2.3" fill="#0a0a0a"/>
<ellipse cx="999" cy="2394.5" rx="2.6" ry="2.3" fill="#0a0a0a"/>
<path d="M909 2275H988.3M909 2268.2v13.6M988.3 2268.2v13.6" class="br"/>
<text transform="translate(948.65,2262.8) scale(1.25,1)" text-anchor="middle" class="pv">0.0080</text>
<text transform="translate(784,2324.5) scale(1.33,1) rotate(-90)" text-anchor="middle" textLength="95" lengthAdjust="spacingAndGlyphs" class="yl"><tspan font-style="italic">J</tspan>H<tspan class="sb" dy="5.3">2</tspan><tspan dy="-5.3">O</tspan><tspan class="sb" dy="5.3">2</tspan><tspan dy="-5.3">/</tspan><tspan font-style="italic">J</tspan>O<tspan class="sb" dy="5.3">2</tspan></text>
</svg>
</body></html>
